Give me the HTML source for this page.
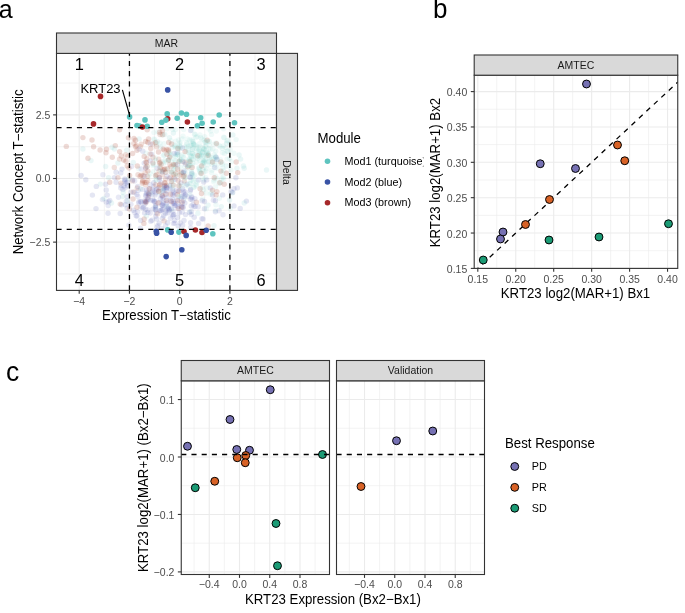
<!DOCTYPE html>
<html><head><meta charset="utf-8"><style>
html,body{margin:0;padding:0;background:#fff;}
svg{display:block;}
text{font-family:"Liberation Sans",sans-serif;}
</style></head><body>
<svg width="685" height="613" viewBox="0 0 685 613" style="will-change:transform">
<rect width="685" height="613" fill="#fff"/>
<line x1="104.32" y1="53.40" x2="104.32" y2="290.40" stroke="#EBEBEB" stroke-width="0.6" />
<line x1="154.55" y1="53.40" x2="154.55" y2="290.40" stroke="#EBEBEB" stroke-width="0.6" />
<line x1="204.78" y1="53.40" x2="204.78" y2="290.40" stroke="#EBEBEB" stroke-width="0.6" />
<line x1="255.01" y1="53.40" x2="255.01" y2="290.40" stroke="#EBEBEB" stroke-width="0.6" />
<line x1="56.50" y1="273.94" x2="276.50" y2="273.94" stroke="#EBEBEB" stroke-width="0.6" />
<line x1="56.50" y1="210.31" x2="276.50" y2="210.31" stroke="#EBEBEB" stroke-width="0.6" />
<line x1="56.50" y1="146.69" x2="276.50" y2="146.69" stroke="#EBEBEB" stroke-width="0.6" />
<line x1="56.50" y1="83.06" x2="276.50" y2="83.06" stroke="#EBEBEB" stroke-width="0.6" />
<line x1="79.21" y1="53.40" x2="79.21" y2="290.40" stroke="#EBEBEB" stroke-width="1.1" />
<line x1="129.44" y1="53.40" x2="129.44" y2="290.40" stroke="#EBEBEB" stroke-width="1.1" />
<line x1="179.67" y1="53.40" x2="179.67" y2="290.40" stroke="#EBEBEB" stroke-width="1.1" />
<line x1="229.90" y1="53.40" x2="229.90" y2="290.40" stroke="#EBEBEB" stroke-width="1.1" />
<line x1="56.50" y1="242.12" x2="276.50" y2="242.12" stroke="#EBEBEB" stroke-width="1.1" />
<line x1="56.50" y1="178.50" x2="276.50" y2="178.50" stroke="#EBEBEB" stroke-width="1.1" />
<line x1="56.50" y1="114.88" x2="276.50" y2="114.88" stroke="#EBEBEB" stroke-width="1.1" />
<g>
<circle cx="220.9" cy="171.1" r="2.7" fill="#AA4632" fill-opacity="0.2"/>
<circle cx="208.9" cy="161.6" r="2.7" fill="#5CC5C0" fill-opacity="0.09"/>
<circle cx="159.2" cy="223.1" r="2.7" fill="#4A55B0" fill-opacity="0.15"/>
<circle cx="150.1" cy="173.7" r="2.7" fill="#5CC5C0" fill-opacity="0.09"/>
<circle cx="184.8" cy="203.0" r="2.7" fill="#4A55B0" fill-opacity="0.15"/>
<circle cx="173.9" cy="174.4" r="2.7" fill="#AA4632" fill-opacity="0.17"/>
<circle cx="208.1" cy="226.0" r="2.7" fill="#AA4632" fill-opacity="0.2"/>
<circle cx="192.1" cy="149.4" r="2.7" fill="#5CC5C0" fill-opacity="0.09"/>
<circle cx="230.2" cy="149.6" r="2.7" fill="#5CC5C0" fill-opacity="0.09"/>
<circle cx="143.4" cy="207.3" r="2.7" fill="#4A55B0" fill-opacity="0.13"/>
<circle cx="108.0" cy="213.3" r="2.7" fill="#4A55B0" fill-opacity="0.15"/>
<circle cx="132.6" cy="153.5" r="2.7" fill="#AA4632" fill-opacity="0.2"/>
<circle cx="125.5" cy="204.8" r="2.7" fill="#4A55B0" fill-opacity="0.15"/>
<circle cx="189.5" cy="165.4" r="2.7" fill="#5CC5C0" fill-opacity="0.09"/>
<circle cx="150.2" cy="213.1" r="2.7" fill="#4A55B0" fill-opacity="0.13"/>
<circle cx="142.3" cy="183.2" r="2.7" fill="#AA4632" fill-opacity="0.17"/>
<circle cx="204.5" cy="208.8" r="2.7" fill="#4A55B0" fill-opacity="0.15"/>
<circle cx="172.9" cy="185.4" r="2.7" fill="#5CC5C0" fill-opacity="0.09"/>
<circle cx="218.9" cy="145.2" r="2.7" fill="#5CC5C0" fill-opacity="0.09"/>
<circle cx="215.5" cy="176.3" r="2.7" fill="#5CC5C0" fill-opacity="0.09"/>
<circle cx="91.0" cy="160.6" r="2.7" fill="#5CC5C0" fill-opacity="0.13"/>
<circle cx="184.0" cy="172.8" r="2.7" fill="#5CC5C0" fill-opacity="0.09"/>
<circle cx="227.5" cy="151.2" r="2.7" fill="#5CC5C0" fill-opacity="0.09"/>
<circle cx="162.0" cy="134.9" r="2.7" fill="#5CC5C0" fill-opacity="0.09"/>
<circle cx="174.5" cy="205.6" r="2.7" fill="#4A55B0" fill-opacity="0.13"/>
<circle cx="236.2" cy="162.0" r="2.7" fill="#AA4632" fill-opacity="0.2"/>
<circle cx="218.4" cy="163.5" r="2.7" fill="#5CC5C0" fill-opacity="0.09"/>
<circle cx="205.8" cy="171.1" r="2.7" fill="#5CC5C0" fill-opacity="0.09"/>
<circle cx="153.7" cy="186.7" r="2.7" fill="#4A55B0" fill-opacity="0.13"/>
<circle cx="203.7" cy="161.4" r="2.7" fill="#5CC5C0" fill-opacity="0.09"/>
<circle cx="120.9" cy="183.1" r="2.7" fill="#AA4632" fill-opacity="0.17"/>
<circle cx="203.5" cy="160.6" r="2.7" fill="#5CC5C0" fill-opacity="0.09"/>
<circle cx="214.3" cy="177.7" r="2.7" fill="#AA4632" fill-opacity="0.2"/>
<circle cx="175.8" cy="141.3" r="2.7" fill="#5CC5C0" fill-opacity="0.09"/>
<circle cx="159.6" cy="163.1" r="2.7" fill="#AA4632" fill-opacity="0.2"/>
<circle cx="164.0" cy="188.7" r="2.7" fill="#4A55B0" fill-opacity="0.15"/>
<circle cx="203.7" cy="149.9" r="2.7" fill="#5CC5C0" fill-opacity="0.09"/>
<circle cx="165.3" cy="172.1" r="2.7" fill="#5CC5C0" fill-opacity="0.09"/>
<circle cx="163.2" cy="149.1" r="2.7" fill="#AA4632" fill-opacity="0.2"/>
<circle cx="155.6" cy="184.8" r="2.7" fill="#AA4632" fill-opacity="0.17"/>
<circle cx="174.0" cy="169.6" r="2.7" fill="#5CC5C0" fill-opacity="0.09"/>
<circle cx="176.0" cy="154.4" r="2.7" fill="#5CC5C0" fill-opacity="0.09"/>
<circle cx="209.2" cy="141.6" r="2.7" fill="#5CC5C0" fill-opacity="0.09"/>
<circle cx="213.2" cy="159.3" r="2.7" fill="#5CC5C0" fill-opacity="0.09"/>
<circle cx="219.8" cy="182.8" r="2.7" fill="#AA4632" fill-opacity="0.2"/>
<circle cx="114.4" cy="177.6" r="2.7" fill="#4A55B0" fill-opacity="0.15"/>
<circle cx="194.0" cy="206.5" r="2.7" fill="#4A55B0" fill-opacity="0.13"/>
<circle cx="155.8" cy="180.1" r="2.7" fill="#5CC5C0" fill-opacity="0.09"/>
<circle cx="146.0" cy="196.2" r="2.7" fill="#4A55B0" fill-opacity="0.13"/>
<circle cx="132.5" cy="180.9" r="2.7" fill="#AA4632" fill-opacity="0.17"/>
<circle cx="159.1" cy="187.6" r="2.7" fill="#AA4632" fill-opacity="0.17"/>
<circle cx="168.7" cy="159.7" r="2.7" fill="#5CC5C0" fill-opacity="0.09"/>
<circle cx="165.4" cy="213.2" r="2.7" fill="#4A55B0" fill-opacity="0.15"/>
<circle cx="198.6" cy="223.4" r="2.7" fill="#4A55B0" fill-opacity="0.15"/>
<circle cx="138.2" cy="190.6" r="2.7" fill="#4A55B0" fill-opacity="0.13"/>
<circle cx="140.2" cy="176.2" r="2.7" fill="#AA4632" fill-opacity="0.2"/>
<circle cx="168.3" cy="149.8" r="2.7" fill="#AA4632" fill-opacity="0.2"/>
<circle cx="116.1" cy="182.2" r="2.7" fill="#4A55B0" fill-opacity="0.15"/>
<circle cx="173.9" cy="203.4" r="2.7" fill="#4A55B0" fill-opacity="0.13"/>
<circle cx="170.0" cy="188.9" r="2.7" fill="#4A55B0" fill-opacity="0.13"/>
<circle cx="92.4" cy="195.1" r="2.7" fill="#4A55B0" fill-opacity="0.15"/>
<circle cx="141.2" cy="201.9" r="2.7" fill="#4A55B0" fill-opacity="0.13"/>
<circle cx="189.9" cy="154.1" r="2.7" fill="#5CC5C0" fill-opacity="0.09"/>
<circle cx="223.6" cy="178.9" r="2.7" fill="#5CC5C0" fill-opacity="0.09"/>
<circle cx="133.0" cy="199.0" r="2.7" fill="#AA4632" fill-opacity="0.2"/>
<circle cx="164.2" cy="154.8" r="2.7" fill="#5CC5C0" fill-opacity="0.09"/>
<circle cx="102.4" cy="199.6" r="2.7" fill="#4A55B0" fill-opacity="0.13"/>
<circle cx="184.0" cy="220.5" r="2.7" fill="#4A55B0" fill-opacity="0.15"/>
<circle cx="155.6" cy="216.2" r="2.7" fill="#4A55B0" fill-opacity="0.13"/>
<circle cx="157.4" cy="168.2" r="2.7" fill="#4A55B0" fill-opacity="0.15"/>
<circle cx="108.2" cy="205.6" r="2.7" fill="#4A55B0" fill-opacity="0.13"/>
<circle cx="162.8" cy="188.2" r="2.7" fill="#5CC5C0" fill-opacity="0.09"/>
<circle cx="189.8" cy="140.0" r="2.7" fill="#5CC5C0" fill-opacity="0.09"/>
<circle cx="195.9" cy="184.2" r="2.7" fill="#5CC5C0" fill-opacity="0.09"/>
<circle cx="150.3" cy="184.7" r="2.7" fill="#4A55B0" fill-opacity="0.13"/>
<circle cx="160.3" cy="146.9" r="2.7" fill="#5CC5C0" fill-opacity="0.13"/>
<circle cx="135.5" cy="146.5" r="2.7" fill="#AA4632" fill-opacity="0.2"/>
<circle cx="136.4" cy="145.4" r="2.7" fill="#AA4632" fill-opacity="0.17"/>
<circle cx="205.5" cy="142.1" r="2.7" fill="#5CC5C0" fill-opacity="0.09"/>
<circle cx="210.4" cy="194.0" r="2.7" fill="#5CC5C0" fill-opacity="0.09"/>
<circle cx="199.3" cy="168.2" r="2.7" fill="#5CC5C0" fill-opacity="0.09"/>
<circle cx="162.2" cy="196.3" r="2.7" fill="#4A55B0" fill-opacity="0.13"/>
<circle cx="217.1" cy="168.2" r="2.7" fill="#5CC5C0" fill-opacity="0.09"/>
<circle cx="107.2" cy="195.1" r="2.7" fill="#4A55B0" fill-opacity="0.15"/>
<circle cx="165.6" cy="225.7" r="2.7" fill="#4A55B0" fill-opacity="0.13"/>
<circle cx="219.1" cy="210.7" r="2.7" fill="#4A55B0" fill-opacity="0.13"/>
<circle cx="122.9" cy="189.4" r="2.7" fill="#4A55B0" fill-opacity="0.13"/>
<circle cx="190.5" cy="145.5" r="2.7" fill="#5CC5C0" fill-opacity="0.09"/>
<circle cx="195.1" cy="134.1" r="2.7" fill="#5CC5C0" fill-opacity="0.09"/>
<circle cx="156.7" cy="189.4" r="2.7" fill="#4A55B0" fill-opacity="0.15"/>
<circle cx="162.5" cy="130.8" r="2.7" fill="#AA4632" fill-opacity="0.2"/>
<circle cx="185.5" cy="194.9" r="2.7" fill="#4A55B0" fill-opacity="0.15"/>
<circle cx="207.2" cy="187.9" r="2.7" fill="#5CC5C0" fill-opacity="0.09"/>
<circle cx="229.6" cy="200.0" r="2.7" fill="#5CC5C0" fill-opacity="0.13"/>
<circle cx="213.4" cy="200.3" r="2.7" fill="#4A55B0" fill-opacity="0.13"/>
<circle cx="230.9" cy="170.0" r="2.7" fill="#5CC5C0" fill-opacity="0.09"/>
<circle cx="82.9" cy="137.6" r="2.7" fill="#AA4632" fill-opacity="0.2"/>
<circle cx="193.1" cy="148.0" r="2.7" fill="#5CC5C0" fill-opacity="0.09"/>
<circle cx="175.7" cy="205.3" r="2.7" fill="#4A55B0" fill-opacity="0.13"/>
<circle cx="193.4" cy="179.1" r="2.7" fill="#5CC5C0" fill-opacity="0.09"/>
<circle cx="138.7" cy="168.7" r="2.7" fill="#5CC5C0" fill-opacity="0.09"/>
<circle cx="185.8" cy="185.6" r="2.7" fill="#5CC5C0" fill-opacity="0.09"/>
<circle cx="190.5" cy="155.8" r="2.7" fill="#5CC5C0" fill-opacity="0.09"/>
<circle cx="187.7" cy="166.8" r="2.7" fill="#AA4632" fill-opacity="0.2"/>
<circle cx="191.7" cy="196.8" r="2.7" fill="#4A55B0" fill-opacity="0.13"/>
<circle cx="202.5" cy="199.2" r="2.7" fill="#5CC5C0" fill-opacity="0.09"/>
<circle cx="186.6" cy="161.4" r="2.7" fill="#5CC5C0" fill-opacity="0.09"/>
<circle cx="168.7" cy="142.5" r="2.7" fill="#AA4632" fill-opacity="0.2"/>
<circle cx="145.7" cy="167.5" r="2.7" fill="#AA4632" fill-opacity="0.2"/>
<circle cx="207.2" cy="140.3" r="2.7" fill="#AA4632" fill-opacity="0.2"/>
<circle cx="236.9" cy="168.2" r="2.7" fill="#5CC5C0" fill-opacity="0.13"/>
<circle cx="152.8" cy="209.1" r="2.7" fill="#4A55B0" fill-opacity="0.13"/>
<circle cx="162.8" cy="205.4" r="2.7" fill="#4A55B0" fill-opacity="0.13"/>
<circle cx="210.6" cy="149.1" r="2.7" fill="#5CC5C0" fill-opacity="0.09"/>
<circle cx="171.4" cy="172.0" r="2.7" fill="#AA4632" fill-opacity="0.17"/>
<circle cx="127.2" cy="208.3" r="2.7" fill="#4A55B0" fill-opacity="0.15"/>
<circle cx="183.2" cy="207.6" r="2.7" fill="#4A55B0" fill-opacity="0.13"/>
<circle cx="178.2" cy="226.1" r="2.7" fill="#4A55B0" fill-opacity="0.15"/>
<circle cx="171.3" cy="172.6" r="2.7" fill="#5CC5C0" fill-opacity="0.13"/>
<circle cx="137.0" cy="216.1" r="2.7" fill="#4A55B0" fill-opacity="0.15"/>
<circle cx="202.5" cy="177.8" r="2.7" fill="#5CC5C0" fill-opacity="0.09"/>
<circle cx="150.5" cy="144.0" r="2.7" fill="#4A55B0" fill-opacity="0.15"/>
<circle cx="177.2" cy="154.7" r="2.7" fill="#5CC5C0" fill-opacity="0.09"/>
<circle cx="189.6" cy="160.0" r="2.7" fill="#5CC5C0" fill-opacity="0.09"/>
<circle cx="175.6" cy="168.3" r="2.7" fill="#5CC5C0" fill-opacity="0.09"/>
<circle cx="191.4" cy="211.4" r="2.7" fill="#4A55B0" fill-opacity="0.13"/>
<circle cx="205.0" cy="159.4" r="2.7" fill="#5CC5C0" fill-opacity="0.09"/>
<circle cx="173.2" cy="214.8" r="2.7" fill="#4A55B0" fill-opacity="0.13"/>
<circle cx="174.2" cy="153.5" r="2.7" fill="#4A55B0" fill-opacity="0.15"/>
<circle cx="187.5" cy="139.0" r="2.7" fill="#5CC5C0" fill-opacity="0.09"/>
<circle cx="162.4" cy="205.3" r="2.7" fill="#4A55B0" fill-opacity="0.13"/>
<circle cx="164.5" cy="186.0" r="2.7" fill="#AA4632" fill-opacity="0.17"/>
<circle cx="208.4" cy="161.9" r="2.7" fill="#5CC5C0" fill-opacity="0.09"/>
<circle cx="194.1" cy="154.6" r="2.7" fill="#5CC5C0" fill-opacity="0.09"/>
<circle cx="227.0" cy="159.1" r="2.7" fill="#5CC5C0" fill-opacity="0.09"/>
<circle cx="140.6" cy="220.5" r="2.7" fill="#4A55B0" fill-opacity="0.15"/>
<circle cx="148.2" cy="197.2" r="2.7" fill="#AA4632" fill-opacity="0.17"/>
<circle cx="164.7" cy="169.0" r="2.7" fill="#AA4632" fill-opacity="0.2"/>
<circle cx="172.6" cy="129.3" r="2.7" fill="#5CC5C0" fill-opacity="0.09"/>
<circle cx="237.3" cy="187.9" r="2.7" fill="#4A55B0" fill-opacity="0.15"/>
<circle cx="169.5" cy="185.1" r="2.7" fill="#5CC5C0" fill-opacity="0.09"/>
<circle cx="172.7" cy="216.1" r="2.7" fill="#4A55B0" fill-opacity="0.15"/>
<circle cx="125.2" cy="187.8" r="2.7" fill="#4A55B0" fill-opacity="0.13"/>
<circle cx="172.3" cy="198.9" r="2.7" fill="#4A55B0" fill-opacity="0.13"/>
<circle cx="122.6" cy="196.6" r="2.7" fill="#5CC5C0" fill-opacity="0.13"/>
<circle cx="208.1" cy="205.1" r="2.7" fill="#5CC5C0" fill-opacity="0.13"/>
<circle cx="194.5" cy="134.5" r="2.7" fill="#5CC5C0" fill-opacity="0.09"/>
<circle cx="164.8" cy="185.6" r="2.7" fill="#4A55B0" fill-opacity="0.13"/>
<circle cx="137.0" cy="207.3" r="2.7" fill="#AA4632" fill-opacity="0.2"/>
<circle cx="224.1" cy="137.8" r="2.7" fill="#5CC5C0" fill-opacity="0.09"/>
<circle cx="136.9" cy="194.4" r="2.7" fill="#4A55B0" fill-opacity="0.13"/>
<circle cx="140.5" cy="146.6" r="2.7" fill="#AA4632" fill-opacity="0.17"/>
<circle cx="199.2" cy="169.4" r="2.7" fill="#5CC5C0" fill-opacity="0.09"/>
<circle cx="192.3" cy="149.4" r="2.7" fill="#5CC5C0" fill-opacity="0.09"/>
<circle cx="153.7" cy="164.6" r="2.7" fill="#5CC5C0" fill-opacity="0.13"/>
<circle cx="191.3" cy="205.9" r="2.7" fill="#4A55B0" fill-opacity="0.15"/>
<circle cx="191.7" cy="197.7" r="2.7" fill="#4A55B0" fill-opacity="0.13"/>
<circle cx="204.2" cy="140.3" r="2.7" fill="#5CC5C0" fill-opacity="0.09"/>
<circle cx="202.9" cy="163.8" r="2.7" fill="#5CC5C0" fill-opacity="0.09"/>
<circle cx="212.5" cy="194.9" r="2.7" fill="#4A55B0" fill-opacity="0.15"/>
<circle cx="159.2" cy="179.2" r="2.7" fill="#4A55B0" fill-opacity="0.13"/>
<circle cx="191.5" cy="145.1" r="2.7" fill="#5CC5C0" fill-opacity="0.09"/>
<circle cx="160.1" cy="162.3" r="2.7" fill="#AA4632" fill-opacity="0.17"/>
<circle cx="116.1" cy="172.3" r="2.7" fill="#4A55B0" fill-opacity="0.15"/>
<circle cx="157.8" cy="131.9" r="2.7" fill="#5CC5C0" fill-opacity="0.09"/>
<circle cx="170.9" cy="166.6" r="2.7" fill="#AA4632" fill-opacity="0.17"/>
<circle cx="170.5" cy="194.2" r="2.7" fill="#AA4632" fill-opacity="0.2"/>
<circle cx="208.9" cy="141.3" r="2.7" fill="#5CC5C0" fill-opacity="0.09"/>
<circle cx="166.9" cy="206.6" r="2.7" fill="#5CC5C0" fill-opacity="0.13"/>
<circle cx="171.6" cy="144.0" r="2.7" fill="#AA4632" fill-opacity="0.2"/>
<circle cx="222.7" cy="194.9" r="2.7" fill="#4A55B0" fill-opacity="0.15"/>
<circle cx="155.2" cy="201.7" r="2.7" fill="#4A55B0" fill-opacity="0.13"/>
<circle cx="121.4" cy="204.8" r="2.7" fill="#4A55B0" fill-opacity="0.15"/>
<circle cx="207.0" cy="168.6" r="2.7" fill="#5CC5C0" fill-opacity="0.09"/>
<circle cx="190.0" cy="211.4" r="2.7" fill="#5CC5C0" fill-opacity="0.09"/>
<circle cx="200.0" cy="147.0" r="2.7" fill="#5CC5C0" fill-opacity="0.09"/>
<circle cx="138.8" cy="202.9" r="2.7" fill="#4A55B0" fill-opacity="0.13"/>
<circle cx="145.1" cy="172.6" r="2.7" fill="#AA4632" fill-opacity="0.17"/>
<circle cx="155.9" cy="207.5" r="2.7" fill="#4A55B0" fill-opacity="0.13"/>
<circle cx="154.0" cy="139.0" r="2.7" fill="#5CC5C0" fill-opacity="0.09"/>
<circle cx="180.0" cy="142.6" r="2.7" fill="#5CC5C0" fill-opacity="0.09"/>
<circle cx="168.0" cy="212.9" r="2.7" fill="#4A55B0" fill-opacity="0.15"/>
<circle cx="192.3" cy="165.4" r="2.7" fill="#5CC5C0" fill-opacity="0.09"/>
<circle cx="119.6" cy="151.6" r="2.7" fill="#AA4632" fill-opacity="0.2"/>
<circle cx="148.6" cy="138.9" r="2.7" fill="#AA4632" fill-opacity="0.2"/>
<circle cx="200.4" cy="156.7" r="2.7" fill="#5CC5C0" fill-opacity="0.09"/>
<circle cx="191.7" cy="173.5" r="2.7" fill="#4A55B0" fill-opacity="0.13"/>
<circle cx="165.8" cy="193.8" r="2.7" fill="#AA4632" fill-opacity="0.17"/>
<circle cx="173.9" cy="192.3" r="2.7" fill="#4A55B0" fill-opacity="0.13"/>
<circle cx="129.4" cy="208.9" r="2.7" fill="#AA4632" fill-opacity="0.17"/>
<circle cx="121.0" cy="185.3" r="2.7" fill="#4A55B0" fill-opacity="0.13"/>
<circle cx="182.6" cy="188.7" r="2.7" fill="#4A55B0" fill-opacity="0.15"/>
<circle cx="191.7" cy="172.2" r="2.7" fill="#5CC5C0" fill-opacity="0.09"/>
<circle cx="174.6" cy="220.4" r="2.7" fill="#4A55B0" fill-opacity="0.13"/>
<circle cx="198.2" cy="206.8" r="2.7" fill="#4A55B0" fill-opacity="0.13"/>
<circle cx="124.9" cy="181.4" r="2.7" fill="#4A55B0" fill-opacity="0.15"/>
<circle cx="165.2" cy="160.0" r="2.7" fill="#5CC5C0" fill-opacity="0.09"/>
<circle cx="194.2" cy="217.3" r="2.7" fill="#4A55B0" fill-opacity="0.15"/>
<circle cx="191.3" cy="156.4" r="2.7" fill="#5CC5C0" fill-opacity="0.09"/>
<circle cx="185.1" cy="192.0" r="2.7" fill="#4A55B0" fill-opacity="0.13"/>
<circle cx="128.9" cy="225.1" r="2.7" fill="#4A55B0" fill-opacity="0.13"/>
<circle cx="142.6" cy="181.7" r="2.7" fill="#AA4632" fill-opacity="0.17"/>
<circle cx="201.5" cy="166.0" r="2.7" fill="#AA4632" fill-opacity="0.2"/>
<circle cx="144.2" cy="156.4" r="2.7" fill="#AA4632" fill-opacity="0.2"/>
<circle cx="182.3" cy="138.9" r="2.7" fill="#5CC5C0" fill-opacity="0.09"/>
<circle cx="204.1" cy="148.9" r="2.7" fill="#5CC5C0" fill-opacity="0.09"/>
<circle cx="175.9" cy="173.1" r="2.7" fill="#AA4632" fill-opacity="0.17"/>
<circle cx="181.8" cy="207.3" r="2.7" fill="#AA4632" fill-opacity="0.2"/>
<circle cx="189.9" cy="177.0" r="2.7" fill="#4A55B0" fill-opacity="0.15"/>
<circle cx="199.7" cy="151.9" r="2.7" fill="#5CC5C0" fill-opacity="0.09"/>
<circle cx="179.5" cy="212.8" r="2.7" fill="#4A55B0" fill-opacity="0.13"/>
<circle cx="153.8" cy="171.5" r="2.7" fill="#5CC5C0" fill-opacity="0.09"/>
<circle cx="190.6" cy="199.3" r="2.7" fill="#4A55B0" fill-opacity="0.15"/>
<circle cx="208.8" cy="148.6" r="2.7" fill="#5CC5C0" fill-opacity="0.09"/>
<circle cx="137.3" cy="166.0" r="2.7" fill="#AA4632" fill-opacity="0.2"/>
<circle cx="230.1" cy="143.9" r="2.7" fill="#5CC5C0" fill-opacity="0.09"/>
<circle cx="155.6" cy="175.5" r="2.7" fill="#AA4632" fill-opacity="0.2"/>
<circle cx="142.8" cy="180.6" r="2.7" fill="#AA4632" fill-opacity="0.2"/>
<circle cx="203.3" cy="189.7" r="2.7" fill="#5CC5C0" fill-opacity="0.09"/>
<circle cx="162.7" cy="161.7" r="2.7" fill="#5CC5C0" fill-opacity="0.09"/>
<circle cx="198.4" cy="151.1" r="2.7" fill="#5CC5C0" fill-opacity="0.09"/>
<circle cx="159.1" cy="171.1" r="2.7" fill="#AA4632" fill-opacity="0.17"/>
<circle cx="151.5" cy="154.2" r="2.7" fill="#4A55B0" fill-opacity="0.15"/>
<circle cx="163.9" cy="169.9" r="2.7" fill="#AA4632" fill-opacity="0.17"/>
<circle cx="166.9" cy="190.8" r="2.7" fill="#4A55B0" fill-opacity="0.13"/>
<circle cx="154.2" cy="200.9" r="2.7" fill="#4A55B0" fill-opacity="0.13"/>
<circle cx="139.1" cy="138.9" r="2.7" fill="#5CC5C0" fill-opacity="0.13"/>
<circle cx="210.7" cy="131.0" r="2.7" fill="#5CC5C0" fill-opacity="0.09"/>
<circle cx="166.9" cy="176.2" r="2.7" fill="#4A55B0" fill-opacity="0.15"/>
<circle cx="172.3" cy="171.4" r="2.7" fill="#5CC5C0" fill-opacity="0.09"/>
<circle cx="163.8" cy="190.9" r="2.7" fill="#4A55B0" fill-opacity="0.13"/>
<circle cx="199.3" cy="154.7" r="2.7" fill="#5CC5C0" fill-opacity="0.09"/>
<circle cx="176.3" cy="175.5" r="2.7" fill="#5CC5C0" fill-opacity="0.09"/>
<circle cx="197.9" cy="147.2" r="2.7" fill="#5CC5C0" fill-opacity="0.09"/>
<circle cx="216.1" cy="194.9" r="2.7" fill="#AA4632" fill-opacity="0.2"/>
<circle cx="200.7" cy="137.8" r="2.7" fill="#5CC5C0" fill-opacity="0.09"/>
<circle cx="171.1" cy="161.6" r="2.7" fill="#5CC5C0" fill-opacity="0.09"/>
<circle cx="168.5" cy="208.8" r="2.7" fill="#4A55B0" fill-opacity="0.13"/>
<circle cx="172.7" cy="190.1" r="2.7" fill="#4A55B0" fill-opacity="0.15"/>
<circle cx="127.2" cy="196.6" r="2.7" fill="#4A55B0" fill-opacity="0.15"/>
<circle cx="178.5" cy="191.2" r="2.7" fill="#AA4632" fill-opacity="0.17"/>
<circle cx="163.4" cy="163.5" r="2.7" fill="#5CC5C0" fill-opacity="0.09"/>
<circle cx="157.8" cy="225.5" r="2.7" fill="#4A55B0" fill-opacity="0.13"/>
<circle cx="191.4" cy="175.0" r="2.7" fill="#5CC5C0" fill-opacity="0.09"/>
<circle cx="193.2" cy="141.8" r="2.7" fill="#5CC5C0" fill-opacity="0.09"/>
<circle cx="191.8" cy="159.3" r="2.7" fill="#5CC5C0" fill-opacity="0.09"/>
<circle cx="150.1" cy="153.9" r="2.7" fill="#AA4632" fill-opacity="0.17"/>
<circle cx="191.5" cy="170.9" r="2.7" fill="#5CC5C0" fill-opacity="0.09"/>
<circle cx="184.7" cy="162.2" r="2.7" fill="#AA4632" fill-opacity="0.17"/>
<circle cx="181.5" cy="206.6" r="2.7" fill="#4A55B0" fill-opacity="0.13"/>
<circle cx="127.2" cy="182.2" r="2.7" fill="#4A55B0" fill-opacity="0.15"/>
<circle cx="192.0" cy="153.5" r="2.7" fill="#5CC5C0" fill-opacity="0.09"/>
<circle cx="196.6" cy="151.6" r="2.7" fill="#5CC5C0" fill-opacity="0.09"/>
<circle cx="235.9" cy="177.7" r="2.7" fill="#4A55B0" fill-opacity="0.15"/>
<circle cx="175.3" cy="161.1" r="2.7" fill="#5CC5C0" fill-opacity="0.09"/>
<circle cx="153.0" cy="165.6" r="2.7" fill="#5CC5C0" fill-opacity="0.09"/>
<circle cx="96.3" cy="186.4" r="2.7" fill="#4A55B0" fill-opacity="0.15"/>
<circle cx="232.6" cy="192.4" r="2.7" fill="#4A55B0" fill-opacity="0.15"/>
<circle cx="166.7" cy="188.3" r="2.7" fill="#4A55B0" fill-opacity="0.13"/>
<circle cx="186.7" cy="152.0" r="2.7" fill="#5CC5C0" fill-opacity="0.09"/>
<circle cx="155.2" cy="194.9" r="2.7" fill="#4A55B0" fill-opacity="0.15"/>
<circle cx="233.9" cy="153.2" r="2.7" fill="#5CC5C0" fill-opacity="0.09"/>
<circle cx="127.5" cy="185.7" r="2.7" fill="#4A55B0" fill-opacity="0.15"/>
<circle cx="187.8" cy="196.6" r="2.7" fill="#4A55B0" fill-opacity="0.13"/>
<circle cx="178.2" cy="180.6" r="2.7" fill="#AA4632" fill-opacity="0.2"/>
<circle cx="125.7" cy="154.8" r="2.7" fill="#AA4632" fill-opacity="0.17"/>
<circle cx="134.0" cy="138.5" r="2.7" fill="#AA4632" fill-opacity="0.2"/>
<circle cx="179.3" cy="159.2" r="2.7" fill="#5CC5C0" fill-opacity="0.09"/>
<circle cx="188.8" cy="186.5" r="2.7" fill="#5CC5C0" fill-opacity="0.09"/>
<circle cx="169.8" cy="185.7" r="2.7" fill="#4A55B0" fill-opacity="0.15"/>
<circle cx="153.7" cy="182.8" r="2.7" fill="#4A55B0" fill-opacity="0.15"/>
<circle cx="179.9" cy="143.9" r="2.7" fill="#5CC5C0" fill-opacity="0.09"/>
<circle cx="66.3" cy="146.4" r="2.7" fill="#AA4632" fill-opacity="0.2"/>
<circle cx="160.2" cy="167.4" r="2.7" fill="#AA4632" fill-opacity="0.17"/>
<circle cx="193.3" cy="143.5" r="2.7" fill="#5CC5C0" fill-opacity="0.09"/>
<circle cx="174.7" cy="166.1" r="2.7" fill="#5CC5C0" fill-opacity="0.09"/>
<circle cx="179.0" cy="185.3" r="2.7" fill="#5CC5C0" fill-opacity="0.09"/>
<circle cx="178.5" cy="140.0" r="2.7" fill="#5CC5C0" fill-opacity="0.09"/>
<circle cx="180.4" cy="147.3" r="2.7" fill="#5CC5C0" fill-opacity="0.09"/>
<circle cx="182.6" cy="148.0" r="2.7" fill="#4A55B0" fill-opacity="0.15"/>
<circle cx="152.7" cy="143.9" r="2.7" fill="#AA4632" fill-opacity="0.17"/>
<circle cx="193.6" cy="144.0" r="2.7" fill="#5CC5C0" fill-opacity="0.09"/>
<circle cx="214.5" cy="165.0" r="2.7" fill="#5CC5C0" fill-opacity="0.09"/>
<circle cx="160.9" cy="210.7" r="2.7" fill="#4A55B0" fill-opacity="0.13"/>
<circle cx="155.3" cy="207.5" r="2.7" fill="#5CC5C0" fill-opacity="0.09"/>
<circle cx="206.0" cy="150.2" r="2.7" fill="#5CC5C0" fill-opacity="0.09"/>
<circle cx="223.5" cy="170.4" r="2.7" fill="#5CC5C0" fill-opacity="0.09"/>
<circle cx="202.6" cy="169.5" r="2.7" fill="#5CC5C0" fill-opacity="0.09"/>
<circle cx="170.0" cy="155.8" r="2.7" fill="#5CC5C0" fill-opacity="0.09"/>
<circle cx="186.6" cy="142.7" r="2.7" fill="#5CC5C0" fill-opacity="0.09"/>
<circle cx="201.8" cy="218.7" r="2.7" fill="#4A55B0" fill-opacity="0.13"/>
<circle cx="161.9" cy="205.0" r="2.7" fill="#4A55B0" fill-opacity="0.13"/>
<circle cx="150.1" cy="193.5" r="2.7" fill="#5CC5C0" fill-opacity="0.13"/>
<circle cx="208.5" cy="153.6" r="2.7" fill="#5CC5C0" fill-opacity="0.09"/>
<circle cx="144.2" cy="219.0" r="2.7" fill="#AA4632" fill-opacity="0.2"/>
<circle cx="148.3" cy="199.4" r="2.7" fill="#4A55B0" fill-opacity="0.13"/>
<circle cx="190.3" cy="191.0" r="2.7" fill="#4A55B0" fill-opacity="0.13"/>
<circle cx="230.4" cy="208.4" r="2.7" fill="#5CC5C0" fill-opacity="0.09"/>
<circle cx="162.5" cy="195.6" r="2.7" fill="#AA4632" fill-opacity="0.2"/>
<circle cx="266.5" cy="170.0" r="2.7" fill="#5CC5C0" fill-opacity="0.13"/>
<circle cx="134.6" cy="181.0" r="2.7" fill="#4A55B0" fill-opacity="0.13"/>
<circle cx="160.4" cy="170.8" r="2.7" fill="#5CC5C0" fill-opacity="0.09"/>
<circle cx="162.1" cy="171.6" r="2.7" fill="#5CC5C0" fill-opacity="0.09"/>
<circle cx="142.8" cy="208.1" r="2.7" fill="#4A55B0" fill-opacity="0.15"/>
<circle cx="200.0" cy="172.8" r="2.7" fill="#5CC5C0" fill-opacity="0.09"/>
<circle cx="214.0" cy="225.6" r="2.7" fill="#5CC5C0" fill-opacity="0.13"/>
<circle cx="143.9" cy="223.4" r="2.7" fill="#AA4632" fill-opacity="0.2"/>
<circle cx="222.9" cy="167.9" r="2.7" fill="#5CC5C0" fill-opacity="0.09"/>
<circle cx="182.3" cy="212.0" r="2.7" fill="#4A55B0" fill-opacity="0.13"/>
<circle cx="140.4" cy="228.3" r="2.7" fill="#4A55B0" fill-opacity="0.13"/>
<circle cx="144.6" cy="212.9" r="2.7" fill="#4A55B0" fill-opacity="0.15"/>
<circle cx="169.8" cy="157.1" r="2.7" fill="#AA4632" fill-opacity="0.2"/>
<circle cx="211.5" cy="134.4" r="2.7" fill="#5CC5C0" fill-opacity="0.09"/>
<circle cx="150.8" cy="148.4" r="2.7" fill="#AA4632" fill-opacity="0.2"/>
<circle cx="166.1" cy="194.5" r="2.7" fill="#4A55B0" fill-opacity="0.13"/>
<circle cx="161.2" cy="195.6" r="2.7" fill="#4A55B0" fill-opacity="0.13"/>
<circle cx="184.7" cy="197.8" r="2.7" fill="#5CC5C0" fill-opacity="0.09"/>
<circle cx="144.2" cy="176.2" r="2.7" fill="#4A55B0" fill-opacity="0.15"/>
<circle cx="182.3" cy="203.7" r="2.7" fill="#4A55B0" fill-opacity="0.13"/>
<circle cx="174.8" cy="163.5" r="2.7" fill="#5CC5C0" fill-opacity="0.09"/>
<circle cx="219.4" cy="198.2" r="2.7" fill="#5CC5C0" fill-opacity="0.09"/>
<circle cx="210.3" cy="187.9" r="2.7" fill="#4A55B0" fill-opacity="0.15"/>
<circle cx="185.1" cy="151.6" r="2.7" fill="#AA4632" fill-opacity="0.2"/>
<circle cx="200.1" cy="188.7" r="2.7" fill="#AA4632" fill-opacity="0.2"/>
<circle cx="177.2" cy="194.6" r="2.7" fill="#AA4632" fill-opacity="0.17"/>
<circle cx="183.7" cy="129.5" r="2.7" fill="#5CC5C0" fill-opacity="0.09"/>
<circle cx="85.8" cy="179.7" r="2.7" fill="#4A55B0" fill-opacity="0.15"/>
<circle cx="226.7" cy="143.2" r="2.7" fill="#5CC5C0" fill-opacity="0.13"/>
<circle cx="139.1" cy="149.1" r="2.7" fill="#4A55B0" fill-opacity="0.15"/>
<circle cx="215.6" cy="156.4" r="2.7" fill="#5CC5C0" fill-opacity="0.09"/>
<circle cx="144.2" cy="163.1" r="2.7" fill="#4A55B0" fill-opacity="0.15"/>
<circle cx="112.3" cy="157.2" r="2.7" fill="#AA4632" fill-opacity="0.2"/>
<circle cx="196.1" cy="146.0" r="2.7" fill="#5CC5C0" fill-opacity="0.09"/>
<circle cx="220.9" cy="162.0" r="2.7" fill="#AA4632" fill-opacity="0.2"/>
<circle cx="202.5" cy="152.4" r="2.7" fill="#5CC5C0" fill-opacity="0.09"/>
<circle cx="166.8" cy="203.5" r="2.7" fill="#4A55B0" fill-opacity="0.13"/>
<circle cx="208.1" cy="155.3" r="2.7" fill="#AA4632" fill-opacity="0.2"/>
<circle cx="154.3" cy="191.1" r="2.7" fill="#4A55B0" fill-opacity="0.13"/>
<circle cx="100.1" cy="150.0" r="2.7" fill="#AA4632" fill-opacity="0.2"/>
<circle cx="126.3" cy="201.2" r="2.7" fill="#4A55B0" fill-opacity="0.13"/>
<circle cx="183.0" cy="156.2" r="2.7" fill="#5CC5C0" fill-opacity="0.09"/>
<circle cx="201.5" cy="151.6" r="2.7" fill="#5CC5C0" fill-opacity="0.09"/>
<circle cx="147.8" cy="210.0" r="2.7" fill="#4A55B0" fill-opacity="0.13"/>
<circle cx="169.9" cy="164.6" r="2.7" fill="#AA4632" fill-opacity="0.17"/>
<circle cx="232.5" cy="193.0" r="2.7" fill="#5CC5C0" fill-opacity="0.09"/>
<circle cx="162.6" cy="209.6" r="2.7" fill="#4A55B0" fill-opacity="0.13"/>
<circle cx="189.0" cy="160.6" r="2.7" fill="#5CC5C0" fill-opacity="0.09"/>
<circle cx="154.4" cy="139.7" r="2.7" fill="#5CC5C0" fill-opacity="0.09"/>
<circle cx="173.4" cy="164.6" r="2.7" fill="#AA4632" fill-opacity="0.2"/>
<circle cx="167.0" cy="202.5" r="2.7" fill="#4A55B0" fill-opacity="0.13"/>
<circle cx="159.3" cy="177.6" r="2.7" fill="#AA4632" fill-opacity="0.17"/>
<circle cx="236.1" cy="139.6" r="2.7" fill="#5CC5C0" fill-opacity="0.09"/>
<circle cx="237.7" cy="172.6" r="2.7" fill="#AA4632" fill-opacity="0.2"/>
<circle cx="172.2" cy="180.0" r="2.7" fill="#5CC5C0" fill-opacity="0.09"/>
<circle cx="221.9" cy="172.9" r="2.7" fill="#5CC5C0" fill-opacity="0.09"/>
<circle cx="158.4" cy="191.1" r="2.7" fill="#AA4632" fill-opacity="0.17"/>
<circle cx="246.4" cy="201.1" r="2.7" fill="#4A55B0" fill-opacity="0.15"/>
<circle cx="146.0" cy="202.5" r="2.7" fill="#AA4632" fill-opacity="0.17"/>
<circle cx="115.3" cy="145.6" r="2.7" fill="#AA4632" fill-opacity="0.2"/>
<circle cx="168.4" cy="207.4" r="2.7" fill="#4A55B0" fill-opacity="0.13"/>
<circle cx="232.9" cy="134.9" r="2.7" fill="#5CC5C0" fill-opacity="0.13"/>
<circle cx="137.2" cy="188.0" r="2.7" fill="#AA4632" fill-opacity="0.17"/>
<circle cx="199.4" cy="143.7" r="2.7" fill="#5CC5C0" fill-opacity="0.09"/>
<circle cx="203.9" cy="149.0" r="2.7" fill="#5CC5C0" fill-opacity="0.09"/>
<circle cx="131.5" cy="166.5" r="2.7" fill="#4A55B0" fill-opacity="0.13"/>
<circle cx="175.0" cy="194.0" r="2.7" fill="#4A55B0" fill-opacity="0.13"/>
<circle cx="201.9" cy="139.3" r="2.7" fill="#5CC5C0" fill-opacity="0.09"/>
<circle cx="181.0" cy="173.5" r="2.7" fill="#5CC5C0" fill-opacity="0.09"/>
<circle cx="146.9" cy="158.7" r="2.7" fill="#AA4632" fill-opacity="0.17"/>
<circle cx="188.9" cy="165.4" r="2.7" fill="#5CC5C0" fill-opacity="0.09"/>
<circle cx="159.6" cy="132.3" r="2.7" fill="#AA4632" fill-opacity="0.2"/>
<circle cx="212.7" cy="149.3" r="2.7" fill="#5CC5C0" fill-opacity="0.09"/>
<circle cx="220.3" cy="159.6" r="2.7" fill="#5CC5C0" fill-opacity="0.09"/>
<circle cx="200.7" cy="173.5" r="2.7" fill="#5CC5C0" fill-opacity="0.09"/>
<circle cx="123.2" cy="192.5" r="2.7" fill="#5CC5C0" fill-opacity="0.13"/>
<circle cx="178.4" cy="154.7" r="2.7" fill="#5CC5C0" fill-opacity="0.09"/>
<circle cx="163.2" cy="203.0" r="2.7" fill="#4A55B0" fill-opacity="0.15"/>
<circle cx="173.8" cy="158.7" r="2.7" fill="#5CC5C0" fill-opacity="0.09"/>
<circle cx="209.2" cy="145.1" r="2.7" fill="#5CC5C0" fill-opacity="0.09"/>
<circle cx="81.1" cy="175.5" r="2.7" fill="#4A55B0" fill-opacity="0.15"/>
<circle cx="155.6" cy="205.8" r="2.7" fill="#4A55B0" fill-opacity="0.13"/>
<circle cx="147.0" cy="192.5" r="2.7" fill="#4A55B0" fill-opacity="0.13"/>
<circle cx="169.4" cy="210.6" r="2.7" fill="#4A55B0" fill-opacity="0.13"/>
<circle cx="160.3" cy="198.7" r="2.7" fill="#4A55B0" fill-opacity="0.13"/>
<circle cx="179.3" cy="161.2" r="2.7" fill="#AA4632" fill-opacity="0.17"/>
<circle cx="177.5" cy="169.0" r="2.7" fill="#AA4632" fill-opacity="0.2"/>
<circle cx="145.5" cy="209.2" r="2.7" fill="#4A55B0" fill-opacity="0.13"/>
<circle cx="192.5" cy="153.5" r="2.7" fill="#5CC5C0" fill-opacity="0.09"/>
<circle cx="214.1" cy="180.1" r="2.7" fill="#5CC5C0" fill-opacity="0.09"/>
<circle cx="165.9" cy="211.1" r="2.7" fill="#4A55B0" fill-opacity="0.13"/>
<circle cx="152.5" cy="189.4" r="2.7" fill="#4A55B0" fill-opacity="0.13"/>
<circle cx="109.7" cy="182.2" r="2.7" fill="#AA4632" fill-opacity="0.2"/>
<circle cx="155.5" cy="176.3" r="2.7" fill="#5CC5C0" fill-opacity="0.09"/>
<circle cx="197.0" cy="136.6" r="2.7" fill="#5CC5C0" fill-opacity="0.09"/>
<circle cx="168.3" cy="160.2" r="2.7" fill="#AA4632" fill-opacity="0.2"/>
<circle cx="196.4" cy="202.2" r="2.7" fill="#AA4632" fill-opacity="0.2"/>
<circle cx="169.8" cy="152.5" r="2.7" fill="#5CC5C0" fill-opacity="0.09"/>
<circle cx="202.1" cy="200.8" r="2.7" fill="#4A55B0" fill-opacity="0.13"/>
<circle cx="159.9" cy="210.8" r="2.7" fill="#4A55B0" fill-opacity="0.13"/>
<circle cx="170.9" cy="154.8" r="2.7" fill="#5CC5C0" fill-opacity="0.09"/>
<circle cx="209.5" cy="156.7" r="2.7" fill="#5CC5C0" fill-opacity="0.09"/>
<circle cx="205.2" cy="145.9" r="2.7" fill="#5CC5C0" fill-opacity="0.09"/>
<circle cx="146.6" cy="190.0" r="2.7" fill="#4A55B0" fill-opacity="0.13"/>
<circle cx="216.4" cy="143.6" r="2.7" fill="#AA4632" fill-opacity="0.2"/>
<circle cx="205.8" cy="177.8" r="2.7" fill="#5CC5C0" fill-opacity="0.09"/>
<circle cx="214.4" cy="158.9" r="2.7" fill="#5CC5C0" fill-opacity="0.09"/>
<circle cx="193.5" cy="181.2" r="2.7" fill="#5CC5C0" fill-opacity="0.09"/>
<circle cx="141.0" cy="206.9" r="2.7" fill="#4A55B0" fill-opacity="0.13"/>
<circle cx="211.9" cy="164.5" r="2.7" fill="#5CC5C0" fill-opacity="0.09"/>
<circle cx="192.2" cy="173.9" r="2.7" fill="#5CC5C0" fill-opacity="0.09"/>
<circle cx="212.5" cy="190.1" r="2.7" fill="#AA4632" fill-opacity="0.2"/>
<circle cx="196.5" cy="148.4" r="2.7" fill="#5CC5C0" fill-opacity="0.09"/>
<circle cx="203.0" cy="219.0" r="2.7" fill="#4A55B0" fill-opacity="0.15"/>
<circle cx="216.2" cy="143.0" r="2.7" fill="#5CC5C0" fill-opacity="0.09"/>
<circle cx="164.1" cy="143.6" r="2.7" fill="#5CC5C0" fill-opacity="0.09"/>
<circle cx="224.4" cy="153.4" r="2.7" fill="#5CC5C0" fill-opacity="0.09"/>
<circle cx="174.8" cy="146.2" r="2.7" fill="#5CC5C0" fill-opacity="0.09"/>
<circle cx="137.0" cy="150.2" r="2.7" fill="#AA4632" fill-opacity="0.2"/>
<circle cx="215.4" cy="210.6" r="2.7" fill="#5CC5C0" fill-opacity="0.09"/>
<circle cx="180.6" cy="196.5" r="2.7" fill="#5CC5C0" fill-opacity="0.09"/>
<circle cx="218.8" cy="183.6" r="2.7" fill="#5CC5C0" fill-opacity="0.09"/>
<circle cx="147.1" cy="166.2" r="2.7" fill="#AA4632" fill-opacity="0.17"/>
<circle cx="159.5" cy="177.2" r="2.7" fill="#4A55B0" fill-opacity="0.13"/>
<circle cx="143.0" cy="175.8" r="2.7" fill="#AA4632" fill-opacity="0.17"/>
<circle cx="174.8" cy="223.1" r="2.7" fill="#4A55B0" fill-opacity="0.13"/>
<circle cx="93.6" cy="146.7" r="2.7" fill="#AA4632" fill-opacity="0.2"/>
<circle cx="159.6" cy="185.0" r="2.7" fill="#AA4632" fill-opacity="0.2"/>
<circle cx="145.7" cy="195.3" r="2.7" fill="#4A55B0" fill-opacity="0.13"/>
<circle cx="193.5" cy="156.1" r="2.7" fill="#5CC5C0" fill-opacity="0.09"/>
<circle cx="173.5" cy="185.1" r="2.7" fill="#AA4632" fill-opacity="0.17"/>
<circle cx="225.5" cy="147.6" r="2.7" fill="#5CC5C0" fill-opacity="0.09"/>
<circle cx="206.9" cy="141.4" r="2.7" fill="#5CC5C0" fill-opacity="0.09"/>
<circle cx="156.3" cy="212.9" r="2.7" fill="#4A55B0" fill-opacity="0.15"/>
<circle cx="134.8" cy="212.5" r="2.7" fill="#4A55B0" fill-opacity="0.13"/>
<circle cx="192.3" cy="139.6" r="2.7" fill="#5CC5C0" fill-opacity="0.09"/>
<circle cx="162.4" cy="190.9" r="2.7" fill="#4A55B0" fill-opacity="0.13"/>
<circle cx="172.7" cy="203.6" r="2.7" fill="#4A55B0" fill-opacity="0.13"/>
<circle cx="158.9" cy="191.5" r="2.7" fill="#AA4632" fill-opacity="0.17"/>
<circle cx="197.9" cy="155.7" r="2.7" fill="#AA4632" fill-opacity="0.2"/>
<circle cx="203.7" cy="162.4" r="2.7" fill="#5CC5C0" fill-opacity="0.09"/>
<circle cx="156.6" cy="146.7" r="2.7" fill="#AA4632" fill-opacity="0.17"/>
<circle cx="212.5" cy="162.0" r="2.7" fill="#AA4632" fill-opacity="0.2"/>
<circle cx="187.0" cy="184.3" r="2.7" fill="#4A55B0" fill-opacity="0.15"/>
<circle cx="147.3" cy="166.8" r="2.7" fill="#5CC5C0" fill-opacity="0.09"/>
<circle cx="184.2" cy="180.9" r="2.7" fill="#AA4632" fill-opacity="0.17"/>
<circle cx="120.8" cy="172.9" r="2.7" fill="#4A55B0" fill-opacity="0.15"/>
<circle cx="186.0" cy="173.5" r="2.7" fill="#5CC5C0" fill-opacity="0.09"/>
<circle cx="189.9" cy="161.6" r="2.7" fill="#AA4632" fill-opacity="0.2"/>
<circle cx="204.8" cy="142.2" r="2.7" fill="#5CC5C0" fill-opacity="0.09"/>
<circle cx="196.4" cy="185.7" r="2.7" fill="#5CC5C0" fill-opacity="0.09"/>
<circle cx="173.4" cy="195.2" r="2.7" fill="#4A55B0" fill-opacity="0.13"/>
<circle cx="138.9" cy="201.7" r="2.7" fill="#4A55B0" fill-opacity="0.13"/>
<circle cx="146.4" cy="193.5" r="2.7" fill="#4A55B0" fill-opacity="0.15"/>
<circle cx="155.6" cy="209.9" r="2.7" fill="#4A55B0" fill-opacity="0.13"/>
<circle cx="203.5" cy="156.0" r="2.7" fill="#5CC5C0" fill-opacity="0.09"/>
<circle cx="132.6" cy="179.9" r="2.7" fill="#4A55B0" fill-opacity="0.15"/>
<circle cx="144.8" cy="201.9" r="2.7" fill="#4A55B0" fill-opacity="0.13"/>
<circle cx="162.5" cy="218.3" r="2.7" fill="#4A55B0" fill-opacity="0.15"/>
<circle cx="173.8" cy="214.4" r="2.7" fill="#4A55B0" fill-opacity="0.15"/>
<circle cx="180.5" cy="160.3" r="2.7" fill="#5CC5C0" fill-opacity="0.09"/>
<circle cx="141.2" cy="169.0" r="2.7" fill="#4A55B0" fill-opacity="0.13"/>
<circle cx="204.5" cy="201.5" r="2.7" fill="#4A55B0" fill-opacity="0.15"/>
<circle cx="184.3" cy="196.2" r="2.7" fill="#4A55B0" fill-opacity="0.13"/>
<circle cx="214.7" cy="167.5" r="2.7" fill="#4A55B0" fill-opacity="0.15"/>
<circle cx="177.0" cy="164.6" r="2.7" fill="#4A55B0" fill-opacity="0.13"/>
<circle cx="155.6" cy="142.5" r="2.7" fill="#AA4632" fill-opacity="0.2"/>
<circle cx="164.1" cy="220.9" r="2.7" fill="#AA4632" fill-opacity="0.17"/>
<circle cx="145.7" cy="168.3" r="2.7" fill="#4A55B0" fill-opacity="0.13"/>
<circle cx="108.6" cy="177.6" r="2.7" fill="#5CC5C0" fill-opacity="0.13"/>
<circle cx="138.0" cy="174.7" r="2.7" fill="#AA4632" fill-opacity="0.17"/>
<circle cx="169.4" cy="137.8" r="2.7" fill="#5CC5C0" fill-opacity="0.13"/>
<circle cx="189.5" cy="212.4" r="2.7" fill="#4A55B0" fill-opacity="0.13"/>
<circle cx="178.6" cy="208.6" r="2.7" fill="#AA4632" fill-opacity="0.17"/>
<circle cx="164.0" cy="207.0" r="2.7" fill="#4A55B0" fill-opacity="0.13"/>
<circle cx="183.0" cy="172.3" r="2.7" fill="#5CC5C0" fill-opacity="0.09"/>
<circle cx="184.4" cy="183.6" r="2.7" fill="#5CC5C0" fill-opacity="0.09"/>
<circle cx="162.3" cy="174.7" r="2.7" fill="#AA4632" fill-opacity="0.17"/>
<circle cx="166.5" cy="185.4" r="2.7" fill="#AA4632" fill-opacity="0.17"/>
<circle cx="127.5" cy="200.8" r="2.7" fill="#5CC5C0" fill-opacity="0.13"/>
<circle cx="133.3" cy="210.2" r="2.7" fill="#4A55B0" fill-opacity="0.15"/>
<circle cx="168.7" cy="151.0" r="2.7" fill="#AA4632" fill-opacity="0.17"/>
<circle cx="215.4" cy="187.0" r="2.7" fill="#5CC5C0" fill-opacity="0.09"/>
<circle cx="174.8" cy="145.3" r="2.7" fill="#5CC5C0" fill-opacity="0.09"/>
<circle cx="208.2" cy="153.8" r="2.7" fill="#5CC5C0" fill-opacity="0.09"/>
<circle cx="119.5" cy="159.1" r="2.7" fill="#AA4632" fill-opacity="0.17"/>
<circle cx="201.2" cy="173.3" r="2.7" fill="#AA4632" fill-opacity="0.2"/>
<circle cx="181.1" cy="182.9" r="2.7" fill="#4A55B0" fill-opacity="0.13"/>
<circle cx="112.0" cy="147.2" r="2.7" fill="#5CC5C0" fill-opacity="0.13"/>
<circle cx="199.9" cy="171.1" r="2.7" fill="#5CC5C0" fill-opacity="0.09"/>
<circle cx="137.9" cy="196.5" r="2.7" fill="#4A55B0" fill-opacity="0.13"/>
<circle cx="117.9" cy="177.6" r="2.7" fill="#AA4632" fill-opacity="0.2"/>
<circle cx="193.2" cy="159.6" r="2.7" fill="#5CC5C0" fill-opacity="0.09"/>
<circle cx="209.2" cy="158.9" r="2.7" fill="#5CC5C0" fill-opacity="0.09"/>
<circle cx="212.0" cy="170.2" r="2.7" fill="#5CC5C0" fill-opacity="0.09"/>
<circle cx="174.4" cy="203.7" r="2.7" fill="#4A55B0" fill-opacity="0.13"/>
<circle cx="221.3" cy="206.6" r="2.7" fill="#5CC5C0" fill-opacity="0.13"/>
<circle cx="159.5" cy="192.7" r="2.7" fill="#5CC5C0" fill-opacity="0.09"/>
<circle cx="147.9" cy="171.1" r="2.7" fill="#AA4632" fill-opacity="0.2"/>
<circle cx="223.0" cy="214.8" r="2.7" fill="#4A55B0" fill-opacity="0.13"/>
<circle cx="167.4" cy="168.8" r="2.7" fill="#AA4632" fill-opacity="0.17"/>
<circle cx="198.9" cy="167.6" r="2.7" fill="#5CC5C0" fill-opacity="0.09"/>
<circle cx="181.6" cy="155.0" r="2.7" fill="#5CC5C0" fill-opacity="0.09"/>
<circle cx="172.9" cy="187.5" r="2.7" fill="#5CC5C0" fill-opacity="0.09"/>
<circle cx="145.7" cy="141.4" r="2.7" fill="#AA4632" fill-opacity="0.2"/>
<circle cx="177.7" cy="147.4" r="2.7" fill="#5CC5C0" fill-opacity="0.09"/>
<circle cx="181.3" cy="198.5" r="2.7" fill="#4A55B0" fill-opacity="0.13"/>
<circle cx="126.0" cy="161.2" r="2.7" fill="#AA4632" fill-opacity="0.2"/>
<circle cx="164.1" cy="150.1" r="2.7" fill="#AA4632" fill-opacity="0.17"/>
<circle cx="201.5" cy="154.9" r="2.7" fill="#5CC5C0" fill-opacity="0.09"/>
<circle cx="189.0" cy="159.0" r="2.7" fill="#5CC5C0" fill-opacity="0.09"/>
<circle cx="184.8" cy="146.9" r="2.7" fill="#5CC5C0" fill-opacity="0.09"/>
<circle cx="215.4" cy="200.8" r="2.7" fill="#4A55B0" fill-opacity="0.15"/>
<circle cx="183.3" cy="176.2" r="2.7" fill="#AA4632" fill-opacity="0.2"/>
<circle cx="129.0" cy="168.1" r="2.7" fill="#AA4632" fill-opacity="0.17"/>
<circle cx="149.0" cy="189.0" r="2.7" fill="#4A55B0" fill-opacity="0.13"/>
<circle cx="213.7" cy="144.3" r="2.7" fill="#5CC5C0" fill-opacity="0.09"/>
<circle cx="180.8" cy="186.2" r="2.7" fill="#5CC5C0" fill-opacity="0.09"/>
<circle cx="124.0" cy="186.1" r="2.7" fill="#4A55B0" fill-opacity="0.13"/>
<circle cx="203.7" cy="180.0" r="2.7" fill="#5CC5C0" fill-opacity="0.09"/>
<circle cx="166.5" cy="200.4" r="2.7" fill="#AA4632" fill-opacity="0.17"/>
<circle cx="195.3" cy="206.5" r="2.7" fill="#4A55B0" fill-opacity="0.13"/>
<circle cx="133.1" cy="192.0" r="2.7" fill="#AA4632" fill-opacity="0.17"/>
<circle cx="106.0" cy="152.8" r="2.7" fill="#AA4632" fill-opacity="0.2"/>
<circle cx="163.0" cy="200.5" r="2.7" fill="#4A55B0" fill-opacity="0.13"/>
<circle cx="160.2" cy="184.1" r="2.7" fill="#AA4632" fill-opacity="0.17"/>
<circle cx="244.2" cy="203.0" r="2.7" fill="#5CC5C0" fill-opacity="0.13"/>
<circle cx="184.4" cy="175.7" r="2.7" fill="#AA4632" fill-opacity="0.17"/>
<circle cx="198.6" cy="179.9" r="2.7" fill="#4A55B0" fill-opacity="0.15"/>
<circle cx="206.2" cy="146.0" r="2.7" fill="#5CC5C0" fill-opacity="0.09"/>
<circle cx="192.8" cy="175.7" r="2.7" fill="#5CC5C0" fill-opacity="0.09"/>
<circle cx="129.6" cy="175.5" r="2.7" fill="#AA4632" fill-opacity="0.2"/>
<circle cx="215.9" cy="204.8" r="2.7" fill="#5CC5C0" fill-opacity="0.09"/>
<circle cx="168.6" cy="159.9" r="2.7" fill="#5CC5C0" fill-opacity="0.09"/>
<circle cx="150.1" cy="160.9" r="2.7" fill="#4A55B0" fill-opacity="0.15"/>
<circle cx="183.3" cy="200.5" r="2.7" fill="#4A55B0" fill-opacity="0.13"/>
<circle cx="170.5" cy="218.3" r="2.7" fill="#4A55B0" fill-opacity="0.13"/>
<circle cx="184.5" cy="177.7" r="2.7" fill="#5CC5C0" fill-opacity="0.09"/>
<circle cx="142.8" cy="151.3" r="2.7" fill="#4A55B0" fill-opacity="0.15"/>
<circle cx="126.0" cy="183.2" r="2.7" fill="#4A55B0" fill-opacity="0.15"/>
<circle cx="157.0" cy="174.7" r="2.7" fill="#AA4632" fill-opacity="0.17"/>
<circle cx="226.4" cy="173.3" r="2.7" fill="#AA4632" fill-opacity="0.2"/>
<circle cx="103.9" cy="198.4" r="2.7" fill="#5CC5C0" fill-opacity="0.13"/>
<circle cx="165.6" cy="178.9" r="2.7" fill="#AA4632" fill-opacity="0.17"/>
<circle cx="163.6" cy="215.8" r="2.7" fill="#4A55B0" fill-opacity="0.15"/>
<circle cx="179.6" cy="190.7" r="2.7" fill="#4A55B0" fill-opacity="0.13"/>
<circle cx="177.5" cy="200.8" r="2.7" fill="#AA4632" fill-opacity="0.2"/>
<circle cx="167.6" cy="222.7" r="2.7" fill="#4A55B0" fill-opacity="0.15"/>
<circle cx="172.5" cy="147.4" r="2.7" fill="#5CC5C0" fill-opacity="0.09"/>
<circle cx="206.3" cy="208.9" r="2.7" fill="#5CC5C0" fill-opacity="0.09"/>
<circle cx="114.4" cy="149.0" r="2.7" fill="#5CC5C0" fill-opacity="0.13"/>
<circle cx="173.1" cy="181.7" r="2.7" fill="#5CC5C0" fill-opacity="0.09"/>
<circle cx="175.6" cy="129.6" r="2.7" fill="#5CC5C0" fill-opacity="0.09"/>
<circle cx="188.6" cy="146.3" r="2.7" fill="#5CC5C0" fill-opacity="0.09"/>
<circle cx="163.0" cy="197.8" r="2.7" fill="#4A55B0" fill-opacity="0.13"/>
<circle cx="141.4" cy="144.1" r="2.7" fill="#AA4632" fill-opacity="0.17"/>
<circle cx="203.7" cy="182.1" r="2.7" fill="#4A55B0" fill-opacity="0.15"/>
<circle cx="169.3" cy="209.2" r="2.7" fill="#4A55B0" fill-opacity="0.13"/>
<circle cx="161.1" cy="182.5" r="2.7" fill="#4A55B0" fill-opacity="0.13"/>
<circle cx="167.1" cy="128.7" r="2.7" fill="#5CC5C0" fill-opacity="0.09"/>
<circle cx="178.9" cy="185.7" r="2.7" fill="#AA4632" fill-opacity="0.2"/>
<circle cx="117.9" cy="163.0" r="2.7" fill="#5CC5C0" fill-opacity="0.13"/>
<circle cx="121.2" cy="156.0" r="2.7" fill="#AA4632" fill-opacity="0.2"/>
<circle cx="128.4" cy="137.8" r="2.7" fill="#AA4632" fill-opacity="0.2"/>
<circle cx="208.9" cy="129.1" r="2.7" fill="#5CC5C0" fill-opacity="0.09"/>
<circle cx="188.7" cy="152.4" r="2.7" fill="#5CC5C0" fill-opacity="0.09"/>
<circle cx="182.9" cy="161.6" r="2.7" fill="#4A55B0" fill-opacity="0.15"/>
<circle cx="192.1" cy="141.2" r="2.7" fill="#5CC5C0" fill-opacity="0.09"/>
<circle cx="130.9" cy="204.2" r="2.7" fill="#4A55B0" fill-opacity="0.13"/>
<circle cx="149.4" cy="188.7" r="2.7" fill="#AA4632" fill-opacity="0.2"/>
<circle cx="148.7" cy="176.1" r="2.7" fill="#5CC5C0" fill-opacity="0.09"/>
<circle cx="124.8" cy="178.9" r="2.7" fill="#4A55B0" fill-opacity="0.13"/>
<circle cx="234.0" cy="188.7" r="2.7" fill="#4A55B0" fill-opacity="0.15"/>
<circle cx="223.5" cy="128.7" r="2.7" fill="#5CC5C0" fill-opacity="0.09"/>
<circle cx="171.3" cy="201.5" r="2.7" fill="#AA4632" fill-opacity="0.2"/>
<circle cx="174.2" cy="177.2" r="2.7" fill="#AA4632" fill-opacity="0.17"/>
<circle cx="190.6" cy="160.7" r="2.7" fill="#5CC5C0" fill-opacity="0.09"/>
<circle cx="163.3" cy="155.6" r="2.7" fill="#5CC5C0" fill-opacity="0.09"/>
<circle cx="182.3" cy="161.3" r="2.7" fill="#5CC5C0" fill-opacity="0.09"/>
<circle cx="183.7" cy="193.2" r="2.7" fill="#4A55B0" fill-opacity="0.13"/>
<circle cx="178.9" cy="196.4" r="2.7" fill="#5CC5C0" fill-opacity="0.13"/>
<circle cx="156.2" cy="143.8" r="2.7" fill="#5CC5C0" fill-opacity="0.09"/>
<circle cx="130.8" cy="192.2" r="2.7" fill="#4A55B0" fill-opacity="0.13"/>
<circle cx="92.0" cy="140.0" r="2.7" fill="#AA4632" fill-opacity="0.2"/>
<circle cx="188.4" cy="165.4" r="2.7" fill="#5CC5C0" fill-opacity="0.09"/>
<circle cx="190.6" cy="222.7" r="2.7" fill="#4A55B0" fill-opacity="0.15"/>
<circle cx="190.8" cy="183.4" r="2.7" fill="#5CC5C0" fill-opacity="0.09"/>
<circle cx="160.0" cy="143.1" r="2.7" fill="#5CC5C0" fill-opacity="0.09"/>
<circle cx="196.8" cy="181.9" r="2.7" fill="#5CC5C0" fill-opacity="0.09"/>
<circle cx="144.9" cy="182.4" r="2.7" fill="#AA4632" fill-opacity="0.17"/>
<circle cx="128.9" cy="178.4" r="2.7" fill="#5CC5C0" fill-opacity="0.13"/>
<circle cx="195.8" cy="157.0" r="2.7" fill="#5CC5C0" fill-opacity="0.09"/>
<circle cx="142.6" cy="189.4" r="2.7" fill="#4A55B0" fill-opacity="0.13"/>
<circle cx="177.1" cy="152.7" r="2.7" fill="#4A55B0" fill-opacity="0.15"/>
<circle cx="211.6" cy="192.8" r="2.7" fill="#5CC5C0" fill-opacity="0.09"/>
<circle cx="204.6" cy="162.3" r="2.7" fill="#5CC5C0" fill-opacity="0.09"/>
<circle cx="223.7" cy="137.2" r="2.7" fill="#5CC5C0" fill-opacity="0.09"/>
<circle cx="227.7" cy="140.5" r="2.7" fill="#5CC5C0" fill-opacity="0.09"/>
<circle cx="222.7" cy="162.9" r="2.7" fill="#5CC5C0" fill-opacity="0.09"/>
<circle cx="216.9" cy="159.5" r="2.7" fill="#4A55B0" fill-opacity="0.15"/>
<circle cx="133.3" cy="162.4" r="2.7" fill="#5CC5C0" fill-opacity="0.13"/>
<circle cx="159.3" cy="202.6" r="2.7" fill="#4A55B0" fill-opacity="0.13"/>
<circle cx="167.1" cy="169.1" r="2.7" fill="#5CC5C0" fill-opacity="0.09"/>
<circle cx="240.2" cy="208.4" r="2.7" fill="#4A55B0" fill-opacity="0.15"/>
<circle cx="224.2" cy="184.3" r="2.7" fill="#AA4632" fill-opacity="0.2"/>
<circle cx="162.5" cy="171.9" r="2.7" fill="#4A55B0" fill-opacity="0.15"/>
<circle cx="157.2" cy="227.0" r="2.7" fill="#4A55B0" fill-opacity="0.13"/>
<circle cx="100.4" cy="184.1" r="2.7" fill="#5CC5C0" fill-opacity="0.13"/>
<circle cx="120.2" cy="204.1" r="2.7" fill="#AA4632" fill-opacity="0.17"/>
<circle cx="146.4" cy="182.4" r="2.7" fill="#AA4632" fill-opacity="0.17"/>
<circle cx="164.7" cy="134.5" r="2.7" fill="#5CC5C0" fill-opacity="0.13"/>
<circle cx="199.4" cy="149.6" r="2.7" fill="#5CC5C0" fill-opacity="0.09"/>
<circle cx="127.9" cy="156.1" r="2.7" fill="#AA4632" fill-opacity="0.17"/>
<circle cx="158.6" cy="159.2" r="2.7" fill="#AA4632" fill-opacity="0.17"/>
<circle cx="239.1" cy="154.9" r="2.7" fill="#5CC5C0" fill-opacity="0.13"/>
<circle cx="144.7" cy="200.7" r="2.7" fill="#4A55B0" fill-opacity="0.13"/>
<circle cx="183.0" cy="136.1" r="2.7" fill="#5CC5C0" fill-opacity="0.09"/>
<circle cx="166.2" cy="187.1" r="2.7" fill="#4A55B0" fill-opacity="0.13"/>
<circle cx="216.3" cy="131.0" r="2.7" fill="#5CC5C0" fill-opacity="0.09"/>
<circle cx="206.3" cy="155.4" r="2.7" fill="#5CC5C0" fill-opacity="0.09"/>
<circle cx="178.9" cy="161.8" r="2.7" fill="#5CC5C0" fill-opacity="0.09"/>
<circle cx="216.9" cy="191.6" r="2.7" fill="#AA4632" fill-opacity="0.2"/>
<circle cx="123.7" cy="160.0" r="2.7" fill="#AA4632" fill-opacity="0.2"/>
<circle cx="192.1" cy="167.5" r="2.7" fill="#AA4632" fill-opacity="0.2"/>
<circle cx="155.4" cy="209.5" r="2.7" fill="#4A55B0" fill-opacity="0.13"/>
<circle cx="146.1" cy="153.2" r="2.7" fill="#5CC5C0" fill-opacity="0.09"/>
<circle cx="147.6" cy="199.1" r="2.7" fill="#4A55B0" fill-opacity="0.13"/>
<circle cx="201.4" cy="155.9" r="2.7" fill="#5CC5C0" fill-opacity="0.09"/>
<circle cx="171.3" cy="181.4" r="2.7" fill="#AA4632" fill-opacity="0.2"/>
<circle cx="166.6" cy="149.6" r="2.7" fill="#AA4632" fill-opacity="0.17"/>
<circle cx="148.4" cy="194.4" r="2.7" fill="#4A55B0" fill-opacity="0.13"/>
<circle cx="190.6" cy="130.5" r="2.7" fill="#4A55B0" fill-opacity="0.15"/>
<circle cx="220.9" cy="182.6" r="2.7" fill="#5CC5C0" fill-opacity="0.09"/>
<circle cx="187.5" cy="168.4" r="2.7" fill="#5CC5C0" fill-opacity="0.09"/>
<circle cx="165.1" cy="182.7" r="2.7" fill="#AA4632" fill-opacity="0.17"/>
<circle cx="126.7" cy="150.1" r="2.7" fill="#5CC5C0" fill-opacity="0.13"/>
<circle cx="182.1" cy="202.0" r="2.7" fill="#AA4632" fill-opacity="0.17"/>
<circle cx="185.5" cy="178.0" r="2.7" fill="#5CC5C0" fill-opacity="0.09"/>
<circle cx="223.1" cy="177.3" r="2.7" fill="#5CC5C0" fill-opacity="0.09"/>
<circle cx="108.5" cy="201.8" r="2.7" fill="#4A55B0" fill-opacity="0.13"/>
<circle cx="229.5" cy="158.6" r="2.7" fill="#5CC5C0" fill-opacity="0.09"/>
<circle cx="127.2" cy="165.9" r="2.7" fill="#AA4632" fill-opacity="0.2"/>
<circle cx="193.6" cy="144.4" r="2.7" fill="#5CC5C0" fill-opacity="0.09"/>
<circle cx="207.6" cy="152.7" r="2.7" fill="#5CC5C0" fill-opacity="0.09"/>
<circle cx="82.9" cy="149.0" r="2.7" fill="#5CC5C0" fill-opacity="0.13"/>
<circle cx="175.8" cy="147.2" r="2.7" fill="#5CC5C0" fill-opacity="0.09"/>
<circle cx="204.9" cy="160.5" r="2.7" fill="#5CC5C0" fill-opacity="0.09"/>
<circle cx="145.9" cy="201.7" r="2.7" fill="#4A55B0" fill-opacity="0.13"/>
<circle cx="105.6" cy="184.3" r="2.7" fill="#4A55B0" fill-opacity="0.15"/>
<circle cx="167.4" cy="208.5" r="2.7" fill="#4A55B0" fill-opacity="0.13"/>
<circle cx="194.0" cy="186.9" r="2.7" fill="#5CC5C0" fill-opacity="0.09"/>
<circle cx="182.6" cy="225.3" r="2.7" fill="#4A55B0" fill-opacity="0.15"/>
<circle cx="177.3" cy="208.2" r="2.7" fill="#4A55B0" fill-opacity="0.13"/>
<circle cx="173.4" cy="133.0" r="2.7" fill="#5CC5C0" fill-opacity="0.13"/>
<circle cx="196.4" cy="162.3" r="2.7" fill="#5CC5C0" fill-opacity="0.09"/>
<circle cx="214.3" cy="154.7" r="2.7" fill="#5CC5C0" fill-opacity="0.09"/>
<circle cx="166.9" cy="154.2" r="2.7" fill="#AA4632" fill-opacity="0.2"/>
<circle cx="109.7" cy="200.5" r="2.7" fill="#4A55B0" fill-opacity="0.15"/>
<circle cx="183.6" cy="157.4" r="2.7" fill="#5CC5C0" fill-opacity="0.09"/>
<circle cx="220.3" cy="146.8" r="2.7" fill="#5CC5C0" fill-opacity="0.09"/>
<circle cx="88.0" cy="158.3" r="2.7" fill="#AA4632" fill-opacity="0.2"/>
<circle cx="182.4" cy="196.2" r="2.7" fill="#4A55B0" fill-opacity="0.13"/>
<circle cx="185.5" cy="214.6" r="2.7" fill="#4A55B0" fill-opacity="0.15"/>
<circle cx="191.0" cy="180.2" r="2.7" fill="#5CC5C0" fill-opacity="0.09"/>
<circle cx="199.3" cy="155.9" r="2.7" fill="#5CC5C0" fill-opacity="0.09"/>
<circle cx="175.1" cy="179.3" r="2.7" fill="#4A55B0" fill-opacity="0.13"/>
<circle cx="147.2" cy="129.7" r="2.7" fill="#AA4632" fill-opacity="0.2"/>
<circle cx="179.8" cy="148.6" r="2.7" fill="#5CC5C0" fill-opacity="0.09"/>
<circle cx="202.7" cy="147.7" r="2.7" fill="#5CC5C0" fill-opacity="0.09"/>
<circle cx="180.9" cy="159.4" r="2.7" fill="#5CC5C0" fill-opacity="0.09"/>
<circle cx="215.8" cy="151.3" r="2.7" fill="#5CC5C0" fill-opacity="0.09"/>
<circle cx="145.0" cy="203.7" r="2.7" fill="#4A55B0" fill-opacity="0.15"/>
<circle cx="136.1" cy="215.8" r="2.7" fill="#4A55B0" fill-opacity="0.13"/>
<circle cx="173.1" cy="166.3" r="2.7" fill="#5CC5C0" fill-opacity="0.09"/>
<circle cx="183.6" cy="191.1" r="2.7" fill="#4A55B0" fill-opacity="0.13"/>
<circle cx="202.7" cy="152.2" r="2.7" fill="#5CC5C0" fill-opacity="0.09"/>
<circle cx="124.9" cy="179.9" r="2.7" fill="#4A55B0" fill-opacity="0.15"/>
<circle cx="148.9" cy="193.5" r="2.7" fill="#AA4632" fill-opacity="0.17"/>
<circle cx="181.2" cy="172.3" r="2.7" fill="#AA4632" fill-opacity="0.17"/>
<circle cx="184.9" cy="166.5" r="2.7" fill="#5CC5C0" fill-opacity="0.09"/>
<circle cx="171.7" cy="209.6" r="2.7" fill="#5CC5C0" fill-opacity="0.09"/>
<circle cx="193.6" cy="187.4" r="2.7" fill="#5CC5C0" fill-opacity="0.09"/>
<circle cx="216.1" cy="157.1" r="2.7" fill="#4A55B0" fill-opacity="0.15"/>
<circle cx="173.2" cy="201.8" r="2.7" fill="#4A55B0" fill-opacity="0.13"/>
<circle cx="215.4" cy="211.7" r="2.7" fill="#4A55B0" fill-opacity="0.15"/>
<circle cx="192.2" cy="199.8" r="2.7" fill="#4A55B0" fill-opacity="0.13"/>
<circle cx="167.0" cy="197.9" r="2.7" fill="#4A55B0" fill-opacity="0.13"/>
<circle cx="118.5" cy="197.3" r="2.7" fill="#4A55B0" fill-opacity="0.13"/>
<circle cx="172.3" cy="194.1" r="2.7" fill="#4A55B0" fill-opacity="0.13"/>
<circle cx="151.7" cy="194.4" r="2.7" fill="#4A55B0" fill-opacity="0.13"/>
<circle cx="140.6" cy="188.7" r="2.7" fill="#5CC5C0" fill-opacity="0.13"/>
<circle cx="187.0" cy="144.3" r="2.7" fill="#5CC5C0" fill-opacity="0.09"/>
<circle cx="182.9" cy="207.1" r="2.7" fill="#4A55B0" fill-opacity="0.13"/>
<circle cx="184.1" cy="171.3" r="2.7" fill="#4A55B0" fill-opacity="0.13"/>
<circle cx="173.5" cy="223.4" r="2.7" fill="#4A55B0" fill-opacity="0.13"/>
<circle cx="155.4" cy="158.3" r="2.7" fill="#5CC5C0" fill-opacity="0.09"/>
<circle cx="197.9" cy="213.2" r="2.7" fill="#5CC5C0" fill-opacity="0.13"/>
<circle cx="106.5" cy="149.3" r="2.7" fill="#AA4632" fill-opacity="0.2"/>
<circle cx="227.3" cy="151.2" r="2.7" fill="#5CC5C0" fill-opacity="0.09"/>
<circle cx="178.2" cy="206.6" r="2.7" fill="#4A55B0" fill-opacity="0.13"/>
<circle cx="147.4" cy="176.4" r="2.7" fill="#AA4632" fill-opacity="0.17"/>
<circle cx="183.3" cy="172.6" r="2.7" fill="#4A55B0" fill-opacity="0.15"/>
<circle cx="135.5" cy="140.3" r="2.7" fill="#AA4632" fill-opacity="0.2"/>
<circle cx="179.6" cy="175.2" r="2.7" fill="#AA4632" fill-opacity="0.17"/>
<circle cx="195.9" cy="137.5" r="2.7" fill="#5CC5C0" fill-opacity="0.09"/>
<circle cx="172.8" cy="211.2" r="2.7" fill="#4A55B0" fill-opacity="0.13"/>
<circle cx="216.9" cy="158.9" r="2.7" fill="#5CC5C0" fill-opacity="0.09"/>
<circle cx="157.4" cy="141.8" r="2.7" fill="#5CC5C0" fill-opacity="0.13"/>
<circle cx="223.3" cy="145.9" r="2.7" fill="#5CC5C0" fill-opacity="0.09"/>
<circle cx="192.8" cy="163.1" r="2.7" fill="#5CC5C0" fill-opacity="0.09"/>
<circle cx="119.6" cy="129.7" r="2.7" fill="#AA4632" fill-opacity="0.2"/>
<circle cx="170.6" cy="177.5" r="2.7" fill="#AA4632" fill-opacity="0.17"/>
<circle cx="156.8" cy="179.7" r="2.7" fill="#5CC5C0" fill-opacity="0.09"/>
<circle cx="206.9" cy="153.2" r="2.7" fill="#5CC5C0" fill-opacity="0.09"/>
<circle cx="157.6" cy="213.8" r="2.7" fill="#AA4632" fill-opacity="0.17"/>
<circle cx="222.5" cy="148.4" r="2.7" fill="#5CC5C0" fill-opacity="0.09"/>
<circle cx="96.0" cy="208.6" r="2.7" fill="#4A55B0" fill-opacity="0.15"/>
<circle cx="102.9" cy="174.8" r="2.7" fill="#4A55B0" fill-opacity="0.13"/>
<circle cx="120.2" cy="213.5" r="2.7" fill="#4A55B0" fill-opacity="0.15"/>
<circle cx="154.1" cy="201.7" r="2.7" fill="#4A55B0" fill-opacity="0.13"/>
<circle cx="222.4" cy="152.5" r="2.7" fill="#5CC5C0" fill-opacity="0.09"/>
<circle cx="178.1" cy="149.5" r="2.7" fill="#5CC5C0" fill-opacity="0.09"/>
<circle cx="180.2" cy="167.3" r="2.7" fill="#5CC5C0" fill-opacity="0.09"/>
<circle cx="190.5" cy="165.1" r="2.7" fill="#5CC5C0" fill-opacity="0.09"/>
<circle cx="190.6" cy="189.4" r="2.7" fill="#4A55B0" fill-opacity="0.15"/>
<circle cx="206.7" cy="179.9" r="2.7" fill="#4A55B0" fill-opacity="0.15"/>
<circle cx="208.0" cy="164.7" r="2.7" fill="#5CC5C0" fill-opacity="0.09"/>
<circle cx="151.9" cy="220.2" r="2.7" fill="#4A55B0" fill-opacity="0.15"/>
<circle cx="185.5" cy="164.3" r="2.7" fill="#4A55B0" fill-opacity="0.13"/>
<circle cx="156.0" cy="192.7" r="2.7" fill="#4A55B0" fill-opacity="0.13"/>
<circle cx="150.8" cy="221.2" r="2.7" fill="#4A55B0" fill-opacity="0.15"/>
<circle cx="106.2" cy="190.0" r="2.7" fill="#4A55B0" fill-opacity="0.15"/>
<circle cx="204.0" cy="171.7" r="2.7" fill="#5CC5C0" fill-opacity="0.09"/>
<circle cx="177.5" cy="217.5" r="2.7" fill="#4A55B0" fill-opacity="0.15"/>
<circle cx="186.6" cy="147.5" r="2.7" fill="#5CC5C0" fill-opacity="0.09"/>
<circle cx="226.7" cy="166.0" r="2.7" fill="#5CC5C0" fill-opacity="0.13"/>
<circle cx="161.0" cy="210.2" r="2.7" fill="#4A55B0" fill-opacity="0.15"/>
<circle cx="146.5" cy="162.8" r="2.7" fill="#AA4632" fill-opacity="0.17"/>
<circle cx="141.3" cy="175.3" r="2.7" fill="#AA4632" fill-opacity="0.17"/>
<circle cx="170.5" cy="200.3" r="2.7" fill="#4A55B0" fill-opacity="0.13"/>
<circle cx="164.7" cy="183.0" r="2.7" fill="#AA4632" fill-opacity="0.17"/>
<circle cx="177.9" cy="148.5" r="2.7" fill="#AA4632" fill-opacity="0.17"/>
<circle cx="188.3" cy="149.7" r="2.7" fill="#5CC5C0" fill-opacity="0.09"/>
<circle cx="145.9" cy="162.0" r="2.7" fill="#AA4632" fill-opacity="0.17"/>
<circle cx="176.8" cy="199.4" r="2.7" fill="#4A55B0" fill-opacity="0.13"/>
<circle cx="231.1" cy="191.6" r="2.7" fill="#4A55B0" fill-opacity="0.15"/>
<circle cx="180.2" cy="223.0" r="2.7" fill="#4A55B0" fill-opacity="0.13"/>
<circle cx="150.9" cy="200.3" r="2.7" fill="#4A55B0" fill-opacity="0.13"/>
<circle cx="165.8" cy="162.0" r="2.7" fill="#5CC5C0" fill-opacity="0.09"/>
<circle cx="202.1" cy="187.8" r="2.7" fill="#5CC5C0" fill-opacity="0.09"/>
<circle cx="234.0" cy="205.9" r="2.7" fill="#4A55B0" fill-opacity="0.15"/>
<circle cx="179.5" cy="145.7" r="2.7" fill="#5CC5C0" fill-opacity="0.09"/>
<circle cx="146.4" cy="216.1" r="2.7" fill="#5CC5C0" fill-opacity="0.13"/>
<circle cx="133.8" cy="143.5" r="2.7" fill="#AA4632" fill-opacity="0.17"/>
<circle cx="190.6" cy="227.5" r="2.7" fill="#4A55B0" fill-opacity="0.13"/>
<circle cx="155.4" cy="160.4" r="2.7" fill="#5CC5C0" fill-opacity="0.09"/>
<circle cx="191.7" cy="130.1" r="2.7" fill="#5CC5C0" fill-opacity="0.09"/>
<circle cx="161.1" cy="164.3" r="2.7" fill="#AA4632" fill-opacity="0.17"/>
<circle cx="240.6" cy="159.1" r="2.7" fill="#5CC5C0" fill-opacity="0.13"/>
<circle cx="146.7" cy="201.2" r="2.7" fill="#4A55B0" fill-opacity="0.13"/>
<circle cx="199.6" cy="160.3" r="2.7" fill="#5CC5C0" fill-opacity="0.09"/>
<circle cx="153.0" cy="157.3" r="2.7" fill="#AA4632" fill-opacity="0.17"/>
<circle cx="226.7" cy="140.9" r="2.7" fill="#5CC5C0" fill-opacity="0.09"/>
<circle cx="206.1" cy="193.0" r="2.7" fill="#5CC5C0" fill-opacity="0.09"/>
<circle cx="147.9" cy="212.4" r="2.7" fill="#4A55B0" fill-opacity="0.15"/>
<circle cx="213.7" cy="181.7" r="2.7" fill="#5CC5C0" fill-opacity="0.09"/>
<circle cx="114.3" cy="167.5" r="2.7" fill="#AA4632" fill-opacity="0.17"/>
<circle cx="168.9" cy="153.0" r="2.7" fill="#5CC5C0" fill-opacity="0.09"/>
<circle cx="155.4" cy="206.1" r="2.7" fill="#4A55B0" fill-opacity="0.13"/>
<circle cx="197.6" cy="158.4" r="2.7" fill="#5CC5C0" fill-opacity="0.09"/>
<circle cx="140.6" cy="201.5" r="2.7" fill="#4A55B0" fill-opacity="0.15"/>
<circle cx="175.3" cy="156.4" r="2.7" fill="#5CC5C0" fill-opacity="0.09"/>
<circle cx="162.6" cy="169.4" r="2.7" fill="#AA4632" fill-opacity="0.17"/>
<circle cx="176.5" cy="190.3" r="2.7" fill="#4A55B0" fill-opacity="0.13"/>
<circle cx="153.9" cy="132.6" r="2.7" fill="#5CC5C0" fill-opacity="0.09"/>
<circle cx="158.5" cy="152.0" r="2.7" fill="#AA4632" fill-opacity="0.2"/>
<circle cx="162.7" cy="134.7" r="2.7" fill="#AA4632" fill-opacity="0.17"/>
<circle cx="152.0" cy="191.9" r="2.7" fill="#4A55B0" fill-opacity="0.13"/>
<circle cx="145.5" cy="184.8" r="2.7" fill="#AA4632" fill-opacity="0.17"/>
<circle cx="166.9" cy="187.5" r="2.7" fill="#4A55B0" fill-opacity="0.13"/>
<circle cx="160.0" cy="134.5" r="2.7" fill="#AA4632" fill-opacity="0.17"/>
<circle cx="177.9" cy="203.5" r="2.7" fill="#4A55B0" fill-opacity="0.13"/>
<circle cx="194.5" cy="144.7" r="2.7" fill="#5CC5C0" fill-opacity="0.09"/>
<circle cx="137.7" cy="186.5" r="2.7" fill="#4A55B0" fill-opacity="0.15"/>
<circle cx="189.8" cy="194.1" r="2.7" fill="#5CC5C0" fill-opacity="0.09"/>
<circle cx="244.2" cy="168.2" r="2.7" fill="#5CC5C0" fill-opacity="0.13"/>
<circle cx="161.5" cy="228.5" r="2.7" fill="#4A55B0" fill-opacity="0.13"/>
<circle cx="175.4" cy="174.1" r="2.7" fill="#5CC5C0" fill-opacity="0.09"/>
<circle cx="171.3" cy="208.8" r="2.7" fill="#4A55B0" fill-opacity="0.15"/>
<circle cx="177.3" cy="154.5" r="2.7" fill="#5CC5C0" fill-opacity="0.09"/>
<circle cx="211.5" cy="172.6" r="2.7" fill="#5CC5C0" fill-opacity="0.09"/>
<circle cx="202.2" cy="163.0" r="2.7" fill="#5CC5C0" fill-opacity="0.09"/>
<circle cx="206.2" cy="154.7" r="2.7" fill="#5CC5C0" fill-opacity="0.09"/>
<circle cx="221.7" cy="179.0" r="2.7" fill="#5CC5C0" fill-opacity="0.09"/>
<circle cx="105.6" cy="166.5" r="2.7" fill="#5CC5C0" fill-opacity="0.13"/>
<circle cx="189.5" cy="183.5" r="2.7" fill="#5CC5C0" fill-opacity="0.09"/>
<circle cx="147.9" cy="142.5" r="2.7" fill="#AA4632" fill-opacity="0.2"/>
<circle cx="193.2" cy="204.5" r="2.7" fill="#4A55B0" fill-opacity="0.13"/>
<circle cx="194.5" cy="175.2" r="2.7" fill="#5CC5C0" fill-opacity="0.09"/>
<circle cx="201.5" cy="193.5" r="2.7" fill="#AA4632" fill-opacity="0.2"/>
<circle cx="175.3" cy="164.6" r="2.7" fill="#AA4632" fill-opacity="0.17"/>
<circle cx="231.4" cy="161.7" r="2.7" fill="#5CC5C0" fill-opacity="0.09"/>
<circle cx="211.4" cy="157.5" r="2.7" fill="#5CC5C0" fill-opacity="0.09"/>
<circle cx="122.0" cy="169.1" r="2.7" fill="#4A55B0" fill-opacity="0.15"/>
<circle cx="222.1" cy="164.4" r="2.7" fill="#5CC5C0" fill-opacity="0.09"/>
<circle cx="159.3" cy="166.2" r="2.7" fill="#5CC5C0" fill-opacity="0.09"/>
<circle cx="164.5" cy="186.9" r="2.7" fill="#4A55B0" fill-opacity="0.13"/>
<circle cx="106.2" cy="202.1" r="2.7" fill="#4A55B0" fill-opacity="0.15"/>
<circle cx="152.9" cy="163.0" r="2.7" fill="#AA4632" fill-opacity="0.17"/>
<circle cx="149.1" cy="195.0" r="2.7" fill="#4A55B0" fill-opacity="0.13"/>
<circle cx="134.4" cy="192.5" r="2.7" fill="#4A55B0" fill-opacity="0.13"/>
<circle cx="165.7" cy="172.2" r="2.7" fill="#AA4632" fill-opacity="0.17"/>
<circle cx="204.0" cy="167.3" r="2.7" fill="#5CC5C0" fill-opacity="0.09"/>
<circle cx="158.1" cy="203.0" r="2.7" fill="#AA4632" fill-opacity="0.2"/>
<circle cx="145.6" cy="201.5" r="2.7" fill="#AA4632" fill-opacity="0.17"/>
<circle cx="190.4" cy="177.5" r="2.7" fill="#4A55B0" fill-opacity="0.13"/>
<circle cx="120.8" cy="188.1" r="2.7" fill="#4A55B0" fill-opacity="0.15"/>
<circle cx="156.7" cy="219.0" r="2.7" fill="#4A55B0" fill-opacity="0.15"/>
<circle cx="217.2" cy="178.8" r="2.7" fill="#5CC5C0" fill-opacity="0.09"/>
<circle cx="243.5" cy="166.0" r="2.7" fill="#5CC5C0" fill-opacity="0.13"/>
<circle cx="194.9" cy="198.6" r="2.7" fill="#4A55B0" fill-opacity="0.13"/>
<circle cx="111.5" cy="203.0" r="2.7" fill="#5CC5C0" fill-opacity="0.13"/>
<circle cx="171.0" cy="140.8" r="2.7" fill="#5CC5C0" fill-opacity="0.09"/>
<circle cx="153.0" cy="200.0" r="2.7" fill="#4A55B0" fill-opacity="0.15"/>
<circle cx="169.3" cy="178.1" r="2.7" fill="#4A55B0" fill-opacity="0.13"/>
<circle cx="204.7" cy="136.6" r="2.7" fill="#5CC5C0" fill-opacity="0.09"/>
<circle cx="163.2" cy="190.4" r="2.7" fill="#5CC5C0" fill-opacity="0.09"/>
<circle cx="213.3" cy="162.8" r="2.7" fill="#5CC5C0" fill-opacity="0.09"/>
<circle cx="158.0" cy="188.6" r="2.7" fill="#4A55B0" fill-opacity="0.13"/>
<circle cx="200.0" cy="135.0" r="2.7" fill="#5CC5C0" fill-opacity="0.09"/>
<circle cx="191.3" cy="214.6" r="2.7" fill="#4A55B0" fill-opacity="0.15"/>
<circle cx="147.7" cy="180.7" r="2.7" fill="#AA4632" fill-opacity="0.17"/>
<circle cx="137.6" cy="211.8" r="2.7" fill="#4A55B0" fill-opacity="0.13"/>
<circle cx="215.6" cy="157.1" r="2.7" fill="#5CC5C0" fill-opacity="0.09"/>
</g>
<circle cx="100.5" cy="96.4" r="2.8" fill="#A6282A"/>
<circle cx="167.7" cy="89.9" r="2.8" fill="#3953A5"/>
<circle cx="129.6" cy="116.9" r="2.8" fill="#5EC4BF"/>
<circle cx="93.5" cy="123.9" r="2.8" fill="#A6282A"/>
<circle cx="137" cy="125.5" r="2.8" fill="#5EC4BF"/>
<circle cx="145" cy="119.9" r="2.8" fill="#5EC4BF"/>
<circle cx="147.2" cy="126.3" r="2.8" fill="#5EC4BF"/>
<circle cx="139.5" cy="126" r="2.8" fill="#5EC4BF"/>
<circle cx="142.4" cy="127" r="2.8" fill="#A6282A"/>
<circle cx="167.2" cy="113.9" r="2.8" fill="#5EC4BF"/>
<circle cx="167.7" cy="118.7" r="2.8" fill="#A6282A"/>
<circle cx="165.9" cy="120.1" r="2.8" fill="#5EC4BF"/>
<circle cx="161.8" cy="122.3" r="2.8" fill="#5EC4BF"/>
<circle cx="177.2" cy="118.2" r="2.8" fill="#5EC4BF"/>
<circle cx="181.4" cy="113" r="2.8" fill="#5EC4BF"/>
<circle cx="186.5" cy="114.3" r="2.8" fill="#5EC4BF"/>
<circle cx="187.4" cy="122" r="2.8" fill="#A6282A"/>
<circle cx="200.7" cy="117.7" r="2.8" fill="#5EC4BF"/>
<circle cx="202.1" cy="123.2" r="2.8" fill="#5EC4BF"/>
<circle cx="197.4" cy="125.7" r="2.8" fill="#5EC4BF"/>
<circle cx="213.2" cy="122" r="2.8" fill="#5EC4BF"/>
<circle cx="219.2" cy="115" r="2.8" fill="#5EC4BF"/>
<circle cx="234.5" cy="122.75" r="2.8" fill="#5EC4BF"/>
<circle cx="156.3" cy="231.2" r="2.8" fill="#3953A5"/>
<circle cx="156.6" cy="233.2" r="2.8" fill="#3953A5"/>
<circle cx="167.7" cy="229.9" r="2.8" fill="#5EC4BF"/>
<circle cx="171.2" cy="232.2" r="2.8" fill="#3953A5"/>
<circle cx="178.9" cy="232.1" r="2.8" fill="#5EC4BF"/>
<circle cx="184" cy="231.5" r="2.8" fill="#A6282A"/>
<circle cx="186.2" cy="235.4" r="2.8" fill="#3953A5"/>
<circle cx="195.4" cy="230" r="2.8" fill="#A6282A"/>
<circle cx="202" cy="232.5" r="2.8" fill="#A6282A"/>
<circle cx="206.2" cy="230.3" r="2.8" fill="#3953A5"/>
<circle cx="212.8" cy="233.7" r="2.8" fill="#5EC4BF"/>
<circle cx="181.8" cy="249.7" r="2.8" fill="#3953A5"/>
<circle cx="166.2" cy="256.6" r="2.8" fill="#3953A5"/>
<line x1="56.50" y1="127.60" x2="276.50" y2="127.60" stroke="#000" stroke-width="1.3" stroke-dasharray="5.1 5.1"/>
<line x1="56.50" y1="229.40" x2="276.50" y2="229.40" stroke="#000" stroke-width="1.3" stroke-dasharray="5.1 5.1"/>
<line x1="129.44" y1="290.40" x2="129.44" y2="53.40" stroke="#000" stroke-width="1.3" stroke-dasharray="5.1 5.1"/>
<line x1="229.90" y1="290.40" x2="229.90" y2="53.40" stroke="#000" stroke-width="1.3" stroke-dasharray="5.1 5.1"/>
<line x1="122.40" y1="89.90" x2="129.40" y2="114.50" stroke="#000" stroke-width="1.1" />
<text x="0" y="0" transform="translate(80.40,93.40) scale(1,1.04)" font-size="13.0" text-anchor="start" fill="#000" >KRT23</text>
<text x="0" y="0" transform="translate(79.20,70.20) scale(1,1.04)" font-size="16.4" text-anchor="middle" fill="#000" >1</text>
<text x="0" y="0" transform="translate(179.60,70.20) scale(1,1.04)" font-size="16.4" text-anchor="middle" fill="#000" >2</text>
<text x="0" y="0" transform="translate(261.00,70.20) scale(1,1.04)" font-size="16.4" text-anchor="middle" fill="#000" >3</text>
<text x="0" y="0" transform="translate(79.20,286.00) scale(1,1.04)" font-size="16.4" text-anchor="middle" fill="#000" >4</text>
<text x="0" y="0" transform="translate(179.60,286.00) scale(1,1.04)" font-size="16.4" text-anchor="middle" fill="#000" >5</text>
<text x="0" y="0" transform="translate(261.00,286.00) scale(1,1.04)" font-size="16.4" text-anchor="middle" fill="#000" >6</text>
<rect x="56.50" y="53.40" width="220.00" height="237.00" fill="none" stroke="#333333" stroke-width="1.1"/>
<rect x="56.50" y="33.00" width="220.00" height="20.40" fill="#D9D9D9" stroke="#333333" stroke-width="1.1"/>
<text x="0" y="0" transform="translate(166.50,46.80) scale(1,1.04)" font-size="10.5" text-anchor="middle" fill="#1A1A1A" >MAR</text>
<rect x="276.50" y="53.40" width="21.00" height="237.00" fill="#D9D9D9" stroke="#333333" stroke-width="1.1"/>
<text x="0" y="0" font-size="10.5" text-anchor="middle" fill="#1A1A1A" transform="translate(282.9,172.50) rotate(90) scale(1,1.04)">Delta</text>
<line x1="79.21" y1="290.40" x2="79.21" y2="293.80" stroke="#333333" stroke-width="1.1" />
<text x="0" y="0" transform="translate(79.21,305.00) scale(1,1.04)" font-size="10.5" text-anchor="middle" fill="#4D4D4D" >−4</text>
<line x1="129.44" y1="290.40" x2="129.44" y2="293.80" stroke="#333333" stroke-width="1.1" />
<text x="0" y="0" transform="translate(129.44,305.00) scale(1,1.04)" font-size="10.5" text-anchor="middle" fill="#4D4D4D" >−2</text>
<line x1="179.67" y1="290.40" x2="179.67" y2="293.80" stroke="#333333" stroke-width="1.1" />
<text x="0" y="0" transform="translate(179.67,305.00) scale(1,1.04)" font-size="10.5" text-anchor="middle" fill="#4D4D4D" >0</text>
<line x1="229.90" y1="290.40" x2="229.90" y2="293.80" stroke="#333333" stroke-width="1.1" />
<text x="0" y="0" transform="translate(229.90,305.00) scale(1,1.04)" font-size="10.5" text-anchor="middle" fill="#4D4D4D" >2</text>
<line x1="53.10" y1="242.12" x2="56.50" y2="242.12" stroke="#333333" stroke-width="1.1" />
<text x="0" y="0" transform="translate(50.30,245.82) scale(1,1.04)" font-size="10.5" text-anchor="end" fill="#4D4D4D" >−2.5</text>
<line x1="53.10" y1="178.50" x2="56.50" y2="178.50" stroke="#333333" stroke-width="1.1" />
<text x="0" y="0" transform="translate(50.30,182.20) scale(1,1.04)" font-size="10.5" text-anchor="end" fill="#4D4D4D" >0.0</text>
<line x1="53.10" y1="114.88" x2="56.50" y2="114.88" stroke="#333333" stroke-width="1.1" />
<text x="0" y="0" transform="translate(50.30,118.58) scale(1,1.04)" font-size="10.5" text-anchor="end" fill="#4D4D4D" >2.5</text>
<text x="0" y="0" transform="translate(166.50,319.90) scale(1,1.04)" font-size="13.25" text-anchor="middle" fill="#000" >Expression T−statistic</text>
<text x="0" y="0" font-size="13.25" text-anchor="middle" transform="translate(22.6,171.9) rotate(-90) scale(1,1.04)">Network Concept T−statistic</text>
<text x="0" y="0" transform="translate(317.50,142.50) scale(1,1.04)" font-size="13.25" text-anchor="start" fill="#000" >Module</text>
<circle cx="327.5" cy="161.25" r="2.8" fill="#5EC4BF"/>
<text x="0" y="0" transform="translate(344.50,164.95) scale(1,1.04)" font-size="10.8" text-anchor="start" fill="#000" >Mod1 (turquoise)</text>
<circle cx="327.5" cy="182.0" r="2.8" fill="#3953A5"/>
<text x="0" y="0" transform="translate(344.50,185.70) scale(1,1.04)" font-size="10.8" text-anchor="start" fill="#000" >Mod2 (blue)</text>
<circle cx="327.5" cy="202.75" r="2.8" fill="#A6282A"/>
<text x="0" y="0" transform="translate(344.50,206.45) scale(1,1.04)" font-size="10.8" text-anchor="start" fill="#000" >Mod3 (brown)</text>
<rect x="423.4" y="100" width="20" height="120" fill="#fff"/>
<line x1="496.77" y1="75.20" x2="496.77" y2="268.40" stroke="#EBEBEB" stroke-width="0.6" />
<line x1="474.20" y1="250.72" x2="677.75" y2="250.72" stroke="#EBEBEB" stroke-width="0.6" />
<line x1="534.73" y1="75.20" x2="534.73" y2="268.40" stroke="#EBEBEB" stroke-width="0.6" />
<line x1="474.20" y1="215.36" x2="677.75" y2="215.36" stroke="#EBEBEB" stroke-width="0.6" />
<line x1="572.68" y1="75.20" x2="572.68" y2="268.40" stroke="#EBEBEB" stroke-width="0.6" />
<line x1="474.20" y1="180.00" x2="677.75" y2="180.00" stroke="#EBEBEB" stroke-width="0.6" />
<line x1="610.62" y1="75.20" x2="610.62" y2="268.40" stroke="#EBEBEB" stroke-width="0.6" />
<line x1="474.20" y1="144.64" x2="677.75" y2="144.64" stroke="#EBEBEB" stroke-width="0.6" />
<line x1="648.58" y1="75.20" x2="648.58" y2="268.40" stroke="#EBEBEB" stroke-width="0.6" />
<line x1="474.20" y1="109.28" x2="677.75" y2="109.28" stroke="#EBEBEB" stroke-width="0.6" />
<line x1="477.80" y1="75.20" x2="477.80" y2="268.40" stroke="#EBEBEB" stroke-width="1.1" />
<line x1="474.20" y1="268.40" x2="677.75" y2="268.40" stroke="#EBEBEB" stroke-width="1.1" />
<line x1="515.75" y1="75.20" x2="515.75" y2="268.40" stroke="#EBEBEB" stroke-width="1.1" />
<line x1="474.20" y1="233.04" x2="677.75" y2="233.04" stroke="#EBEBEB" stroke-width="1.1" />
<line x1="553.70" y1="75.20" x2="553.70" y2="268.40" stroke="#EBEBEB" stroke-width="1.1" />
<line x1="474.20" y1="197.68" x2="677.75" y2="197.68" stroke="#EBEBEB" stroke-width="1.1" />
<line x1="591.65" y1="75.20" x2="591.65" y2="268.40" stroke="#EBEBEB" stroke-width="1.1" />
<line x1="474.20" y1="162.32" x2="677.75" y2="162.32" stroke="#EBEBEB" stroke-width="1.1" />
<line x1="629.60" y1="75.20" x2="629.60" y2="268.40" stroke="#EBEBEB" stroke-width="1.1" />
<line x1="474.20" y1="126.96" x2="677.75" y2="126.96" stroke="#EBEBEB" stroke-width="1.1" />
<line x1="667.55" y1="75.20" x2="667.55" y2="268.40" stroke="#EBEBEB" stroke-width="1.1" />
<line x1="474.20" y1="91.60" x2="677.75" y2="91.60" stroke="#EBEBEB" stroke-width="1.1" />
<clipPath id="cb"><rect x="474.2" y="75.2" width="203.55" height="193.2"/></clipPath>
<line x1="474.76" y1="271.23" x2="677.80" y2="82.05" stroke="#000" stroke-width="1.3" stroke-dasharray="5.1 5.1" clip-path="url(#cb)"/>
<circle cx="586.5" cy="84" r="3.95" fill="#7671B3" stroke="#000" stroke-width="1.0"/>
<circle cx="540.25" cy="163.75" r="3.95" fill="#7671B3" stroke="#000" stroke-width="1.0"/>
<circle cx="575.5" cy="168.5" r="3.95" fill="#7671B3" stroke="#000" stroke-width="1.0"/>
<circle cx="503" cy="232" r="3.95" fill="#7671B3" stroke="#000" stroke-width="1.0"/>
<circle cx="500.5" cy="239" r="3.95" fill="#7671B3" stroke="#000" stroke-width="1.0"/>
<circle cx="617.5" cy="145" r="3.95" fill="#D86226" stroke="#000" stroke-width="1.0"/>
<circle cx="624.75" cy="160.75" r="3.95" fill="#D86226" stroke="#000" stroke-width="1.0"/>
<circle cx="549.5" cy="199.5" r="3.95" fill="#D86226" stroke="#000" stroke-width="1.0"/>
<circle cx="525.5" cy="224.5" r="3.95" fill="#D86226" stroke="#000" stroke-width="1.0"/>
<circle cx="668.5" cy="223.75" r="3.95" fill="#1B9B75" stroke="#000" stroke-width="1.0"/>
<circle cx="599" cy="237" r="3.95" fill="#1B9B75" stroke="#000" stroke-width="1.0"/>
<circle cx="549" cy="240" r="3.95" fill="#1B9B75" stroke="#000" stroke-width="1.0"/>
<circle cx="483.25" cy="260" r="3.95" fill="#1B9B75" stroke="#000" stroke-width="1.0"/>
<rect x="474.20" y="75.20" width="203.55" height="193.20" fill="none" stroke="#333333" stroke-width="1.1"/>
<rect x="474.20" y="55.00" width="203.55" height="20.20" fill="#D9D9D9" stroke="#333333" stroke-width="1.1"/>
<text x="0" y="0" transform="translate(575.98,68.80) scale(1,1.04)" font-size="10.5" text-anchor="middle" fill="#1A1A1A" >AMTEC</text>
<line x1="477.80" y1="268.40" x2="477.80" y2="271.80" stroke="#333333" stroke-width="1.1" />
<text x="0" y="0" transform="translate(477.80,282.90) scale(1,1.04)" font-size="10.5" text-anchor="middle" fill="#4D4D4D" >0.15</text>
<line x1="470.80" y1="268.40" x2="474.20" y2="268.40" stroke="#333333" stroke-width="1.1" />
<text x="0" y="0" transform="translate(467.30,272.90) scale(1,1.04)" font-size="10.5" text-anchor="end" fill="#4D4D4D" >0.15</text>
<line x1="515.75" y1="268.40" x2="515.75" y2="271.80" stroke="#333333" stroke-width="1.1" />
<text x="0" y="0" transform="translate(515.75,282.90) scale(1,1.04)" font-size="10.5" text-anchor="middle" fill="#4D4D4D" >0.20</text>
<line x1="470.80" y1="233.04" x2="474.20" y2="233.04" stroke="#333333" stroke-width="1.1" />
<text x="0" y="0" transform="translate(467.30,237.54) scale(1,1.04)" font-size="10.5" text-anchor="end" fill="#4D4D4D" >0.20</text>
<line x1="553.70" y1="268.40" x2="553.70" y2="271.80" stroke="#333333" stroke-width="1.1" />
<text x="0" y="0" transform="translate(553.70,282.90) scale(1,1.04)" font-size="10.5" text-anchor="middle" fill="#4D4D4D" >0.25</text>
<line x1="470.80" y1="197.68" x2="474.20" y2="197.68" stroke="#333333" stroke-width="1.1" />
<text x="0" y="0" transform="translate(467.30,202.18) scale(1,1.04)" font-size="10.5" text-anchor="end" fill="#4D4D4D" >0.25</text>
<line x1="591.65" y1="268.40" x2="591.65" y2="271.80" stroke="#333333" stroke-width="1.1" />
<text x="0" y="0" transform="translate(591.65,282.90) scale(1,1.04)" font-size="10.5" text-anchor="middle" fill="#4D4D4D" >0.30</text>
<line x1="470.80" y1="162.32" x2="474.20" y2="162.32" stroke="#333333" stroke-width="1.1" />
<text x="0" y="0" transform="translate(467.30,166.82) scale(1,1.04)" font-size="10.5" text-anchor="end" fill="#4D4D4D" >0.30</text>
<line x1="629.60" y1="268.40" x2="629.60" y2="271.80" stroke="#333333" stroke-width="1.1" />
<text x="0" y="0" transform="translate(629.60,282.90) scale(1,1.04)" font-size="10.5" text-anchor="middle" fill="#4D4D4D" >0.35</text>
<line x1="470.80" y1="126.96" x2="474.20" y2="126.96" stroke="#333333" stroke-width="1.1" />
<text x="0" y="0" transform="translate(467.30,131.46) scale(1,1.04)" font-size="10.5" text-anchor="end" fill="#4D4D4D" >0.35</text>
<line x1="667.55" y1="268.40" x2="667.55" y2="271.80" stroke="#333333" stroke-width="1.1" />
<text x="0" y="0" transform="translate(667.55,282.90) scale(1,1.04)" font-size="10.5" text-anchor="middle" fill="#4D4D4D" >0.40</text>
<line x1="470.80" y1="91.60" x2="474.20" y2="91.60" stroke="#333333" stroke-width="1.1" />
<text x="0" y="0" transform="translate(467.30,96.10) scale(1,1.04)" font-size="10.5" text-anchor="end" fill="#4D4D4D" >0.40</text>
<text x="0" y="0" transform="translate(575.48,297.80) scale(1,1.04)" font-size="13.25" text-anchor="middle" fill="#000" >KRT23 log2(MAR+1) Bx1</text>
<text x="0" y="0" font-size="13.25" text-anchor="middle" transform="translate(440.2,172.60) rotate(-90) scale(1,1.04)">KRT23 log2(MAR+1) Bx2</text>
<line x1="194.14" y1="380.80" x2="194.14" y2="574.50" stroke="#EBEBEB" stroke-width="0.6" />
<line x1="224.38" y1="380.80" x2="224.38" y2="574.50" stroke="#EBEBEB" stroke-width="0.6" />
<line x1="254.62" y1="380.80" x2="254.62" y2="574.50" stroke="#EBEBEB" stroke-width="0.6" />
<line x1="284.86" y1="380.80" x2="284.86" y2="574.50" stroke="#EBEBEB" stroke-width="0.6" />
<line x1="315.10" y1="380.80" x2="315.10" y2="574.50" stroke="#EBEBEB" stroke-width="0.6" />
<line x1="181.25" y1="543.17" x2="329.50" y2="543.17" stroke="#EBEBEB" stroke-width="0.6" />
<line x1="181.25" y1="485.73" x2="329.50" y2="485.73" stroke="#EBEBEB" stroke-width="0.6" />
<line x1="181.25" y1="428.27" x2="329.50" y2="428.27" stroke="#EBEBEB" stroke-width="0.6" />
<line x1="209.26" y1="380.80" x2="209.26" y2="574.50" stroke="#EBEBEB" stroke-width="1.1" />
<line x1="239.50" y1="380.80" x2="239.50" y2="574.50" stroke="#EBEBEB" stroke-width="1.1" />
<line x1="269.74" y1="380.80" x2="269.74" y2="574.50" stroke="#EBEBEB" stroke-width="1.1" />
<line x1="299.98" y1="380.80" x2="299.98" y2="574.50" stroke="#EBEBEB" stroke-width="1.1" />
<line x1="181.25" y1="571.90" x2="329.50" y2="571.90" stroke="#EBEBEB" stroke-width="1.1" />
<line x1="181.25" y1="514.45" x2="329.50" y2="514.45" stroke="#EBEBEB" stroke-width="1.1" />
<line x1="181.25" y1="457.00" x2="329.50" y2="457.00" stroke="#EBEBEB" stroke-width="1.1" />
<line x1="181.25" y1="399.55" x2="329.50" y2="399.55" stroke="#EBEBEB" stroke-width="1.1" />
<line x1="349.39" y1="380.80" x2="349.39" y2="574.50" stroke="#EBEBEB" stroke-width="0.6" />
<line x1="379.63" y1="380.80" x2="379.63" y2="574.50" stroke="#EBEBEB" stroke-width="0.6" />
<line x1="409.87" y1="380.80" x2="409.87" y2="574.50" stroke="#EBEBEB" stroke-width="0.6" />
<line x1="440.11" y1="380.80" x2="440.11" y2="574.50" stroke="#EBEBEB" stroke-width="0.6" />
<line x1="470.35" y1="380.80" x2="470.35" y2="574.50" stroke="#EBEBEB" stroke-width="0.6" />
<line x1="336.50" y1="543.17" x2="484.50" y2="543.17" stroke="#EBEBEB" stroke-width="0.6" />
<line x1="336.50" y1="485.73" x2="484.50" y2="485.73" stroke="#EBEBEB" stroke-width="0.6" />
<line x1="336.50" y1="428.27" x2="484.50" y2="428.27" stroke="#EBEBEB" stroke-width="0.6" />
<line x1="364.51" y1="380.80" x2="364.51" y2="574.50" stroke="#EBEBEB" stroke-width="1.1" />
<line x1="394.75" y1="380.80" x2="394.75" y2="574.50" stroke="#EBEBEB" stroke-width="1.1" />
<line x1="424.99" y1="380.80" x2="424.99" y2="574.50" stroke="#EBEBEB" stroke-width="1.1" />
<line x1="455.23" y1="380.80" x2="455.23" y2="574.50" stroke="#EBEBEB" stroke-width="1.1" />
<line x1="336.50" y1="571.90" x2="484.50" y2="571.90" stroke="#EBEBEB" stroke-width="1.1" />
<line x1="336.50" y1="514.45" x2="484.50" y2="514.45" stroke="#EBEBEB" stroke-width="1.1" />
<line x1="336.50" y1="457.00" x2="484.50" y2="457.00" stroke="#EBEBEB" stroke-width="1.1" />
<line x1="336.50" y1="399.55" x2="484.50" y2="399.55" stroke="#EBEBEB" stroke-width="1.1" />
<circle cx="270.25" cy="389.75" r="3.95" fill="#7671B3" stroke="#000" stroke-width="1.0"/>
<circle cx="230" cy="419.5" r="3.95" fill="#7671B3" stroke="#000" stroke-width="1.0"/>
<circle cx="187.5" cy="446.25" r="3.95" fill="#7671B3" stroke="#000" stroke-width="1.0"/>
<circle cx="236.75" cy="449.5" r="3.95" fill="#7671B3" stroke="#000" stroke-width="1.0"/>
<circle cx="249.5" cy="450.25" r="3.95" fill="#7671B3" stroke="#000" stroke-width="1.0"/>
<circle cx="245.75" cy="455.5" r="3.95" fill="#D86226" stroke="#000" stroke-width="1.0"/>
<circle cx="237.25" cy="457.75" r="3.95" fill="#D86226" stroke="#000" stroke-width="1.0"/>
<circle cx="245.25" cy="462.75" r="3.95" fill="#D86226" stroke="#000" stroke-width="1.0"/>
<circle cx="214.75" cy="481.25" r="3.95" fill="#D86226" stroke="#000" stroke-width="1.0"/>
<circle cx="195.25" cy="487.75" r="3.95" fill="#1B9B75" stroke="#000" stroke-width="1.0"/>
<circle cx="276" cy="523.5" r="3.95" fill="#1B9B75" stroke="#000" stroke-width="1.0"/>
<circle cx="277.5" cy="565.75" r="3.95" fill="#1B9B75" stroke="#000" stroke-width="1.0"/>
<circle cx="322.5" cy="454.5" r="3.95" fill="#1B9B75" stroke="#000" stroke-width="1.0"/>
<circle cx="396.5" cy="440.75" r="3.95" fill="#7671B3" stroke="#000" stroke-width="1.0"/>
<circle cx="432.75" cy="431" r="3.95" fill="#7671B3" stroke="#000" stroke-width="1.0"/>
<circle cx="361" cy="486.5" r="3.95" fill="#D86226" stroke="#000" stroke-width="1.0"/>
<line x1="181.25" y1="454.50" x2="329.50" y2="454.50" stroke="#000" stroke-width="1.3" stroke-dasharray="5.1 5.1"/>
<rect x="181.25" y="380.80" width="148.25" height="193.70" fill="none" stroke="#333333" stroke-width="1.1"/>
<rect x="181.25" y="360.50" width="148.25" height="20.30" fill="#D9D9D9" stroke="#333333" stroke-width="1.1"/>
<text x="0" y="0" transform="translate(255.38,374.40) scale(1,1.04)" font-size="10.5" text-anchor="middle" fill="#1A1A1A" >AMTEC</text>
<line x1="209.26" y1="574.50" x2="209.26" y2="577.90" stroke="#333333" stroke-width="1.1" />
<text x="0" y="0" transform="translate(209.26,588.20) scale(1,1.04)" font-size="10.5" text-anchor="middle" fill="#4D4D4D" >−0.4</text>
<line x1="239.50" y1="574.50" x2="239.50" y2="577.90" stroke="#333333" stroke-width="1.1" />
<text x="0" y="0" transform="translate(239.50,588.20) scale(1,1.04)" font-size="10.5" text-anchor="middle" fill="#4D4D4D" >0.0</text>
<line x1="269.74" y1="574.50" x2="269.74" y2="577.90" stroke="#333333" stroke-width="1.1" />
<text x="0" y="0" transform="translate(269.74,588.20) scale(1,1.04)" font-size="10.5" text-anchor="middle" fill="#4D4D4D" >0.4</text>
<line x1="299.98" y1="574.50" x2="299.98" y2="577.90" stroke="#333333" stroke-width="1.1" />
<text x="0" y="0" transform="translate(299.98,588.20) scale(1,1.04)" font-size="10.5" text-anchor="middle" fill="#4D4D4D" >0.8</text>
<line x1="336.50" y1="454.50" x2="484.50" y2="454.50" stroke="#000" stroke-width="1.3" stroke-dasharray="5.1 5.1"/>
<rect x="336.50" y="380.80" width="148.00" height="193.70" fill="none" stroke="#333333" stroke-width="1.1"/>
<rect x="336.50" y="360.50" width="148.00" height="20.30" fill="#D9D9D9" stroke="#333333" stroke-width="1.1"/>
<text x="0" y="0" transform="translate(410.50,374.40) scale(1,1.04)" font-size="10.5" text-anchor="middle" fill="#1A1A1A" >Validation</text>
<line x1="364.51" y1="574.50" x2="364.51" y2="577.90" stroke="#333333" stroke-width="1.1" />
<text x="0" y="0" transform="translate(364.51,588.20) scale(1,1.04)" font-size="10.5" text-anchor="middle" fill="#4D4D4D" >−0.4</text>
<line x1="394.75" y1="574.50" x2="394.75" y2="577.90" stroke="#333333" stroke-width="1.1" />
<text x="0" y="0" transform="translate(394.75,588.20) scale(1,1.04)" font-size="10.5" text-anchor="middle" fill="#4D4D4D" >0.0</text>
<line x1="424.99" y1="574.50" x2="424.99" y2="577.90" stroke="#333333" stroke-width="1.1" />
<text x="0" y="0" transform="translate(424.99,588.20) scale(1,1.04)" font-size="10.5" text-anchor="middle" fill="#4D4D4D" >0.4</text>
<line x1="455.23" y1="574.50" x2="455.23" y2="577.90" stroke="#333333" stroke-width="1.1" />
<text x="0" y="0" transform="translate(455.23,588.20) scale(1,1.04)" font-size="10.5" text-anchor="middle" fill="#4D4D4D" >0.8</text>
<line x1="177.85" y1="571.90" x2="181.25" y2="571.90" stroke="#333333" stroke-width="1.1" />
<text x="0" y="0" transform="translate(174.40,576.40) scale(1,1.04)" font-size="10.5" text-anchor="end" fill="#4D4D4D" >−0.2</text>
<line x1="177.85" y1="514.45" x2="181.25" y2="514.45" stroke="#333333" stroke-width="1.1" />
<text x="0" y="0" transform="translate(174.40,518.95) scale(1,1.04)" font-size="10.5" text-anchor="end" fill="#4D4D4D" >−0.1</text>
<line x1="177.85" y1="457.00" x2="181.25" y2="457.00" stroke="#333333" stroke-width="1.1" />
<text x="0" y="0" transform="translate(174.40,461.50) scale(1,1.04)" font-size="10.5" text-anchor="end" fill="#4D4D4D" >0.0</text>
<line x1="177.85" y1="399.55" x2="181.25" y2="399.55" stroke="#333333" stroke-width="1.1" />
<text x="0" y="0" transform="translate(174.40,404.05) scale(1,1.04)" font-size="10.5" text-anchor="end" fill="#4D4D4D" >0.1</text>
<text x="0" y="0" transform="translate(332.90,603.90) scale(1,1.04)" font-size="13.25" text-anchor="middle" fill="#000" >KRT23 Expression (Bx2−Bx1)</text>
<text x="0" y="0" font-size="13.25" text-anchor="middle" transform="translate(148.4,477.65) rotate(-90) scale(1,1.04)">KRT23 log2(MAR+1) (Bx2−Bx1)</text>
<text x="0" y="0" transform="translate(505.00,448.25) scale(1,1.04)" font-size="13.25" text-anchor="start" fill="#000" >Best Response</text>
<circle cx="514.75" cy="466.50" r="3.95" fill="#7671B3" stroke="#000" stroke-width="1.0"/>
<text x="0" y="0" transform="translate(531.75,470.20) scale(1,1.04)" font-size="10.8" text-anchor="start" fill="#000" >PD</text>
<circle cx="514.75" cy="487.35" r="3.95" fill="#D86226" stroke="#000" stroke-width="1.0"/>
<text x="0" y="0" transform="translate(531.75,491.05) scale(1,1.04)" font-size="10.8" text-anchor="start" fill="#000" >PR</text>
<circle cx="514.75" cy="508.20" r="3.95" fill="#1B9B75" stroke="#000" stroke-width="1.0"/>
<text x="0" y="0" transform="translate(531.75,511.90) scale(1,1.04)" font-size="10.8" text-anchor="start" fill="#000" >SD</text>
<text x="0" y="0" transform="translate(-1.20,18.20) scale(1,1.04)" font-size="25" text-anchor="start" fill="#000" >a</text>
<text x="0" y="0" transform="translate(433.00,18.20) scale(1,1.04)" font-size="26" text-anchor="start" fill="#000" >b</text>
<text x="0" y="0" transform="translate(6.10,381.20) scale(1,1.04)" font-size="26.5" text-anchor="start" fill="#000" >c</text>
</svg></body></html>
